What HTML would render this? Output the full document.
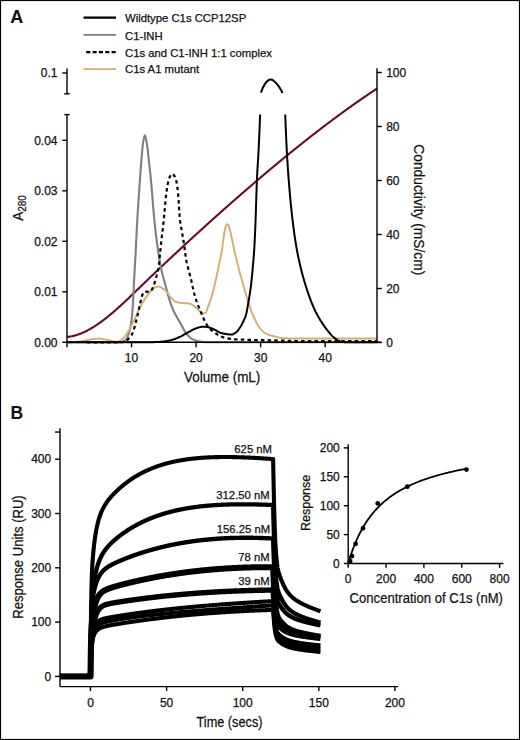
<!DOCTYPE html>
<html><head><meta charset="utf-8"><style>
html,body{margin:0;padding:0;background:#fff}
body{width:520px;height:740px;overflow:hidden}
svg{display:block}
text{font-family:"Liberation Sans", sans-serif;fill:#111;stroke:#111;stroke-width:0.25px}
</style></head><body>
<svg width="520" height="740" viewBox="0 0 520 740">
<rect x="0" y="0" width="520" height="740" fill="#fff"/>
<text x="10.2" y="23" font-size="18" text-anchor="start" font-weight="bold" style="stroke-width:0.1px">A</text>
<line x1="83.5" y1="17.6" x2="116" y2="17.6" stroke="#000" stroke-width="2.2" />
<line x1="83.5" y1="34.9" x2="116" y2="34.9" stroke="#7f7f7f" stroke-width="1.7" />
<line x1="86.2" y1="52.2" x2="116.2" y2="52.2" stroke="#000" stroke-width="2.2" stroke-dasharray="4.1 2.25"/>
<line x1="83.5" y1="69.1" x2="116" y2="69.1" stroke="#d6ac70" stroke-width="1.7" />
<text x="125" y="21.599999999999998" font-size="11.3" text-anchor="start" >Wildtype C1s CCP12SP</text>
<text x="125" y="39.5" font-size="11.3" text-anchor="start" >C1-INH</text>
<text x="125" y="56.6" font-size="11.3" text-anchor="start" >C1s and C1-INH 1:1 complex</text>
<text x="125" y="72.9" font-size="11.3" text-anchor="start" >C1s A1 mutant</text>
<path d="M67.00,336.96 L67.50,336.91 L68.00,336.86 L68.50,336.80 L69.00,336.73 L69.50,336.66 L70.00,336.58 L70.50,336.50 L71.00,336.41 L71.50,336.31 L72.00,336.21 L72.50,336.11 L73.00,335.99 L73.50,335.87 L74.00,335.75 L74.50,335.62 L75.00,335.49 L75.50,335.35 L76.00,335.20 L76.50,335.05 L77.00,334.89 L77.50,334.73 L78.00,334.56 L78.50,334.39 L79.00,334.21 L79.50,334.03 L80.00,333.84 L80.50,333.65 L81.00,333.45 L81.50,333.25 L82.00,333.04 L82.50,332.83 L83.00,332.61 L83.50,332.39 L84.00,332.16 L84.50,331.93 L85.00,331.69 L85.50,331.45 L86.00,331.21 L86.50,330.96 L87.00,330.70 L87.50,330.45 L88.00,330.18 L88.50,329.91 L89.00,329.64 L89.50,329.37 L90.00,329.09 L90.50,328.80 L91.00,328.51 L91.50,328.22 L92.00,327.92 L92.50,327.62 L93.00,327.32 L93.50,327.01 L94.00,326.70 L94.50,326.38 L95.00,326.06 L95.50,325.74 L96.00,325.41 L96.50,325.08 L97.00,324.74 L97.50,324.40 L98.00,324.06 L98.50,323.72 L99.00,323.37 L99.50,323.02 L100.00,322.66 L100.50,322.30 L101.00,321.94 L101.50,321.57 L102.00,321.21 L102.50,320.83 L103.00,320.46 L103.50,320.08 L104.00,319.70 L104.50,319.32 L105.00,318.93 L105.50,318.54 L106.00,318.15 L106.50,317.75 L107.00,317.35 L107.50,316.95 L108.00,316.55 L108.50,316.14 L109.00,315.74 L109.50,315.32 L110.00,314.91 L110.50,314.49 L111.00,314.08 L111.50,313.66 L112.00,313.23 L112.50,312.81 L113.00,312.38 L113.50,311.95 L114.00,311.52 L114.50,311.08 L115.00,310.65 L115.50,310.21 L116.00,309.77 L116.50,309.33 L117.00,308.88 L117.50,308.44 L118.00,307.99 L118.50,307.54 L119.00,307.09 L119.50,306.64 L120.00,306.18 L120.50,305.73 L121.00,305.27 L121.50,304.81 L122.00,304.35 L122.50,303.89 L123.00,303.43 L123.50,302.96 L124.00,302.49 L124.50,302.03 L125.00,301.56 L125.50,301.09 L126.00,300.62 L126.50,300.15 L127.00,299.68 L127.50,299.20 L128.00,298.73 L128.50,298.25 L129.00,297.78 L129.50,297.30 L130.00,296.82 L130.50,296.34 L131.00,295.86 L131.50,295.38 L132.00,294.90 L132.50,294.42 L133.00,293.94 L133.50,293.46 L134.00,292.98 L134.50,292.50 L135.00,292.01 L135.50,291.53 L136.00,291.05 L136.50,290.56 L137.00,290.08 L137.50,289.59 L138.00,289.11 L138.50,288.63 L139.00,288.14 L139.50,287.66 L140.00,287.17 L140.50,286.69 L141.00,286.21 L141.50,285.72 L142.00,285.24 L142.50,284.76 L143.00,284.28 L143.50,283.79 L144.00,283.31 L144.50,282.83 L145.00,282.35 L145.50,281.87 L146.00,281.39 L146.50,280.91 L147.00,280.42 L147.50,279.94 L148.00,279.46 L148.50,278.98 L149.00,278.51 L149.50,278.03 L150.00,277.55 L150.50,277.07 L151.00,276.59 L151.50,276.11 L152.00,275.63 L152.50,275.16 L153.00,274.68 L153.50,274.20 L154.00,273.72 L154.50,273.25 L155.00,272.77 L155.50,272.29 L156.00,271.82 L156.50,271.34 L157.00,270.87 L157.50,270.39 L158.00,269.92 L158.50,269.44 L159.00,268.97 L159.50,268.49 L160.00,268.02 L160.50,267.54 L161.00,267.07 L161.50,266.60 L162.00,266.12 L162.50,265.65 L163.00,265.18 L163.50,264.71 L164.00,264.24 L164.50,263.76 L165.00,263.29 L165.50,262.82 L166.00,262.35 L166.50,261.88 L167.00,261.41 L167.50,260.94 L168.00,260.47 L168.50,260.00 L169.00,259.53 L169.50,259.06 L170.00,258.59 L170.50,258.12 L171.00,257.65 L171.50,257.18 L172.00,256.72 L172.50,256.25 L173.00,255.78 L173.50,255.31 L174.00,254.84 L174.50,254.38 L175.00,253.91 L175.50,253.44 L176.00,252.98 L176.50,252.51 L177.00,252.05 L177.50,251.58 L178.00,251.12 L178.50,250.65 L179.00,250.19 L179.50,249.72 L180.00,249.26 L180.50,248.79 L181.00,248.33 L181.50,247.87 L182.00,247.40 L182.50,246.94 L183.00,246.48 L183.50,246.01 L184.00,245.55 L184.50,245.09 L185.00,244.63 L185.50,244.17 L186.00,243.70 L186.50,243.24 L187.00,242.78 L187.50,242.32 L188.00,241.86 L188.50,241.40 L189.00,240.94 L189.50,240.48 L190.00,240.02 L190.50,239.56 L191.00,239.10 L191.50,238.64 L192.00,238.19 L192.50,237.73 L193.00,237.27 L193.50,236.81 L194.00,236.35 L194.50,235.90 L195.00,235.44 L195.50,234.98 L196.00,234.53 L196.50,234.07 L197.00,233.61 L197.50,233.16 L198.00,232.70 L198.50,232.25 L199.00,231.79 L199.50,231.34 L200.00,230.88 L200.50,230.43 L201.00,229.97 L201.50,229.52 L202.00,229.06 L202.50,228.61 L203.00,228.16 L203.50,227.70 L204.00,227.25 L204.50,226.80 L205.00,226.35 L205.50,225.89 L206.00,225.44 L206.50,224.99 L207.00,224.54 L207.50,224.09 L208.00,223.64 L208.50,223.19 L209.00,222.74 L209.50,222.28 L210.00,221.83 L210.50,221.39 L211.00,220.94 L211.50,220.49 L212.00,220.04 L212.50,219.59 L213.00,219.14 L213.50,218.69 L214.00,218.24 L214.50,217.79 L215.00,217.35 L215.50,216.90 L216.00,216.45 L216.50,216.00 L217.00,215.56 L217.50,215.11 L218.00,214.67 L218.50,214.22 L219.00,213.77 L219.50,213.33 L220.00,212.88 L220.50,212.44 L221.00,211.99 L221.50,211.55 L222.00,211.10 L222.50,210.66 L223.00,210.21 L223.50,209.77 L224.00,209.33 L224.50,208.88 L225.00,208.44 L225.50,208.00 L226.00,207.55 L226.50,207.11 L227.00,206.67 L227.50,206.23 L228.00,205.79 L228.50,205.34 L229.00,204.90 L229.50,204.46 L230.00,204.02 L230.50,203.58 L231.00,203.14 L231.50,202.70 L232.00,202.26 L232.50,201.82 L233.00,201.38 L233.50,200.94 L234.00,200.50 L234.50,200.06 L235.00,199.62 L235.50,199.19 L236.00,198.75 L236.50,198.31 L237.00,197.87 L237.50,197.44 L238.00,197.00 L238.50,196.56 L239.00,196.13 L239.50,195.69 L240.00,195.25 L240.50,194.82 L241.00,194.38 L241.50,193.95 L242.00,193.51 L242.50,193.08 L243.00,192.64 L243.50,192.21 L244.00,191.77 L244.50,191.34 L245.00,190.90 L245.50,190.47 L246.00,190.04 L246.50,189.61 L247.00,189.17 L247.50,188.74 L248.00,188.31 L248.50,187.88 L249.00,187.45 L249.50,187.01 L250.00,186.58 L250.50,186.15 L251.00,185.72 L251.50,185.29 L252.00,184.86 L252.50,184.43 L253.00,184.00 L253.50,183.57 L254.00,183.15 L254.50,182.72 L255.00,182.29 L255.50,181.86 L256.00,181.43 L256.50,181.01 L257.00,180.58 L257.50,180.15 L258.00,179.72 L258.50,179.30 L259.00,178.87 L259.50,178.45 L260.00,178.02 L260.50,177.60 L261.00,177.17 L261.50,176.75 L262.00,176.32 L262.50,175.90 L263.00,175.47 L263.50,175.05 L264.00,174.63 L264.50,174.21 L265.00,173.78 L265.50,173.36 L266.00,172.94 L266.50,172.52 L267.00,172.10 L267.50,171.67 L268.00,171.25 L268.50,170.83 L269.00,170.41 L269.50,169.99 L270.00,169.57 L270.50,169.16 L271.00,168.74 L271.50,168.32 L272.00,167.90 L272.50,167.48 L273.00,167.06 L273.50,166.65 L274.00,166.23 L274.50,165.81 L275.00,165.40 L275.50,164.98 L276.00,164.57 L276.50,164.15 L277.00,163.73 L277.50,163.32 L278.00,162.91 L278.50,162.49 L279.00,162.08 L279.50,161.66 L280.00,161.25 L280.50,160.84 L281.00,160.43 L281.50,160.01 L282.00,159.60 L282.50,159.19 L283.00,158.78 L283.50,158.37 L284.00,157.96 L284.50,157.55 L285.00,157.14 L285.50,156.73 L286.00,156.32 L286.50,155.91 L287.00,155.50 L287.50,155.09 L288.00,154.69 L288.50,154.28 L289.00,153.87 L289.50,153.47 L290.00,153.06 L290.50,152.65 L291.00,152.25 L291.50,151.84 L292.00,151.44 L292.50,151.03 L293.00,150.63 L293.50,150.22 L294.00,149.82 L294.50,149.42 L295.00,149.02 L295.50,148.61 L296.00,148.21 L296.50,147.81 L297.00,147.41 L297.50,147.01 L298.00,146.61 L298.50,146.21 L299.00,145.81 L299.50,145.41 L300.00,145.01 L300.50,144.61 L301.00,144.21 L301.50,143.81 L302.00,143.41 L302.50,143.02 L303.00,142.62 L303.50,142.22 L304.00,141.83 L304.50,141.43 L305.00,141.04 L305.50,140.64 L306.00,140.25 L306.50,139.85 L307.00,139.46 L307.50,139.06 L308.00,138.67 L308.50,138.28 L309.00,137.89 L309.50,137.49 L310.00,137.10 L310.50,136.71 L311.00,136.32 L311.50,135.93 L312.00,135.54 L312.50,135.15 L313.00,134.76 L313.50,134.37 L314.00,133.98 L314.50,133.60 L315.00,133.21 L315.50,132.82 L316.00,132.43 L316.50,132.05 L317.00,131.66 L317.50,131.28 L318.00,130.89 L318.50,130.51 L319.00,130.12 L319.50,129.74 L320.00,129.35 L320.50,128.97 L321.00,128.59 L321.50,128.21 L322.00,127.82 L322.50,127.44 L323.00,127.06 L323.50,126.68 L324.00,126.30 L324.50,125.92 L325.00,125.54 L325.50,125.16 L326.00,124.78 L326.50,124.40 L327.00,124.03 L327.50,123.65 L328.00,123.27 L328.50,122.90 L329.00,122.52 L329.50,122.14 L330.00,121.77 L330.50,121.39 L331.00,121.02 L331.50,120.65 L332.00,120.27 L332.50,119.90 L333.00,119.53 L333.50,119.16 L334.00,118.78 L334.50,118.41 L335.00,118.04 L335.50,117.67 L336.00,117.30 L336.50,116.93 L337.00,116.56 L337.50,116.19 L338.00,115.83 L338.50,115.46 L339.00,115.09 L339.50,114.72 L340.00,114.36 L340.50,113.99 L341.00,113.63 L341.50,113.26 L342.00,112.90 L342.50,112.53 L343.00,112.17 L343.50,111.80 L344.00,111.44 L344.50,111.08 L345.00,110.72 L345.50,110.36 L346.00,110.00 L346.50,109.63 L347.00,109.27 L347.50,108.92 L348.00,108.56 L348.50,108.20 L349.00,107.84 L349.50,107.48 L350.00,107.12 L350.50,106.77 L351.00,106.41 L351.50,106.06 L352.00,105.70 L352.50,105.35 L353.00,104.99 L353.50,104.64 L354.00,104.28 L354.50,103.93 L355.00,103.58 L355.50,103.23 L356.00,102.88 L356.50,102.52 L357.00,102.17 L357.50,101.82 L358.00,101.47 L358.50,101.12 L359.00,100.78 L359.50,100.43 L360.00,100.08 L360.50,99.73 L361.00,99.39 L361.50,99.04 L362.00,98.70 L362.50,98.35 L363.00,98.01 L363.50,97.66 L364.00,97.32 L364.50,96.97 L365.00,96.63 L365.50,96.29 L366.00,95.95 L366.50,95.61 L367.00,95.27 L367.50,94.93 L368.00,94.59 L368.50,94.25 L369.00,93.91 L369.50,93.57 L370.00,93.23 L370.50,92.90 L371.00,92.56 L371.50,92.22 L372.00,91.89 L372.50,91.55 L373.00,91.22 L373.50,90.88 L374.00,90.55 L374.50,90.22 L375.00,89.89 L375.50,89.55 L376.00,89.22 L376.50,88.89 L377.00,88.56" fill="none" stroke="#6a0a2a" stroke-width="2.1"/>
<path d="M67.00,342.30 L67.50,342.30 L68.00,342.30 L68.50,342.30 L69.00,342.30 L69.50,342.30 L70.00,342.30 L70.50,342.30 L71.00,342.30 L71.50,342.30 L72.00,342.30 L72.50,342.30 L73.00,342.30 L73.50,342.30 L74.00,342.30 L74.50,342.30 L75.00,342.30 L75.50,342.30 L76.00,342.30 L76.50,342.30 L77.00,342.30 L77.50,342.30 L78.00,342.30 L78.50,342.30 L79.00,342.30 L79.50,342.30 L80.00,342.30 L80.50,342.30 L81.00,342.30 L81.50,342.30 L82.00,342.30 L82.50,342.30 L83.00,342.30 L83.50,342.30 L84.00,342.30 L84.50,342.30 L85.00,342.30 L85.50,342.30 L86.00,342.30 L86.50,342.30 L87.00,342.30 L87.50,342.30 L88.00,342.30 L88.50,342.30 L89.00,342.30 L89.50,342.30 L90.00,342.30 L90.50,342.30 L91.00,342.30 L91.50,342.30 L92.00,342.30 L92.50,342.30 L93.00,342.30 L93.50,342.30 L94.00,342.30 L94.50,342.30 L95.00,342.30 L95.50,342.30 L96.00,342.30 L96.50,342.30 L97.00,342.30 L97.50,342.30 L98.00,342.30 L98.50,342.30 L99.00,342.30 L99.50,342.30 L100.00,342.30 L100.50,342.30 L101.00,342.30 L101.50,342.30 L102.00,342.30 L102.50,342.30 L103.00,342.30 L103.50,342.30 L104.00,342.30 L104.50,342.30 L105.00,342.30 L105.50,342.30 L106.00,342.30 L106.50,342.30 L107.00,342.30 L107.50,342.30 L108.00,342.30 L108.50,342.30 L109.00,342.30 L109.50,342.30 L110.00,342.30 L110.50,342.30 L111.00,342.30 L111.50,342.30 L112.00,342.30 L112.50,342.30 L113.00,342.30 L113.50,342.30 L114.00,342.30 L114.50,342.30 L115.00,342.30 L115.50,342.30 L116.00,342.30 L116.50,342.30 L117.00,342.29 L117.50,342.27 L118.00,342.25 L118.50,342.22 L119.00,342.18 L119.50,342.14 L120.00,342.10 L120.50,342.05 L121.00,342.00 L121.50,341.93 L122.00,341.82 L122.50,341.67 L123.00,341.49 L123.50,341.27 L124.00,341.01 L124.50,340.72 L125.00,340.39 L125.50,340.03 L126.00,339.61 L126.50,338.93 L127.00,337.98 L127.50,336.81 L128.00,335.49 L128.50,334.08 L129.00,332.60 L129.50,330.95 L130.00,329.02 L130.50,326.73 L131.00,324.00 L131.50,320.46 L132.00,315.84 L132.50,310.17 L133.00,303.18 L133.50,292.87 L134.00,281.94 L134.50,272.92 L135.00,264.53 L135.50,255.63 L136.00,245.61 L136.50,235.14 L137.00,225.08 L137.50,216.19 L138.00,208.07 L138.50,200.43 L139.00,193.12 L139.50,186.02 L140.00,178.99 L140.50,172.02 L141.00,165.32 L141.50,159.15 L142.00,153.36 L142.50,147.77 L143.00,143.28 L143.50,140.35 L144.00,137.85 L144.50,136.10 L145.00,135.64 L145.50,136.73 L146.00,138.90 L146.50,141.49 L147.00,144.41 L147.50,148.25 L148.00,152.64 L148.50,157.13 L149.00,161.51 L149.50,166.05 L150.00,170.76 L150.50,175.66 L151.00,180.75 L151.50,186.22 L152.00,192.21 L152.50,198.49 L153.00,204.81 L153.50,210.92 L154.00,216.55 L154.50,221.52 L155.00,226.18 L155.50,230.65 L156.00,234.93 L156.50,239.03 L157.00,242.95 L157.50,246.70 L158.00,250.27 L158.50,253.68 L159.00,256.92 L159.50,259.99 L160.00,262.86 L160.50,265.53 L161.00,268.00 L161.50,270.26 L162.00,272.36 L162.50,274.34 L163.00,276.24 L163.50,278.11 L164.00,280.00 L164.50,281.89 L165.00,283.76 L165.50,285.59 L166.00,287.41 L166.50,289.21 L167.00,291.00 L167.50,292.81 L168.00,294.64 L168.50,296.46 L169.00,298.23 L169.50,299.92 L170.00,301.50 L170.50,302.98 L171.00,304.41 L171.50,305.77 L172.00,307.08 L172.50,308.32 L173.00,309.50 L173.50,310.62 L174.00,311.68 L174.50,312.70 L175.00,313.68 L175.50,314.64 L176.00,315.57 L176.50,316.50 L177.00,317.41 L177.50,318.28 L178.00,319.14 L178.50,319.98 L179.00,320.81 L179.50,321.65 L180.00,322.50 L180.50,323.38 L181.00,324.29 L181.50,325.22 L182.00,326.16 L182.50,327.11 L183.00,328.06 L183.50,328.99 L184.00,329.90 L184.50,330.77 L185.00,331.60 L185.50,332.39 L186.00,333.11 L186.50,333.76 L187.00,334.35 L187.50,334.91 L188.00,335.46 L188.50,335.98 L189.00,336.48 L189.50,336.96 L190.00,337.40 L190.50,337.82 L191.00,338.20 L191.50,338.54 L192.00,338.84 L192.50,339.10 L193.00,339.35 L193.50,339.58 L194.00,339.81 L194.50,340.02 L195.00,340.22 L195.50,340.41 L196.00,340.59 L196.50,340.75 L197.00,340.90 L197.50,341.04 L198.00,341.16 L198.50,341.27 L199.00,341.37 L199.50,341.45 L200.00,341.53 L200.50,341.61 L201.00,341.68 L201.50,341.76 L202.00,341.83 L202.50,341.89 L203.00,341.96 L203.50,342.02 L204.00,342.07 L204.50,342.12 L205.00,342.17 L205.50,342.21 L206.00,342.24 L206.50,342.26 L207.00,342.28 L207.50,342.30 L208.00,342.30 L208.50,342.30 L209.00,342.30 L209.50,342.30 L210.00,342.30 L210.50,342.30 L211.00,342.30 L211.50,342.30 L212.00,342.30 L212.50,342.30 L213.00,342.30 L213.50,342.30 L214.00,342.30 L214.50,342.30 L215.00,342.30 L215.50,342.30 L216.00,342.30 L216.50,342.30 L217.00,342.30 L217.50,342.30 L218.00,342.30 L218.50,342.30 L219.00,342.30 L219.50,342.30 L220.00,342.30 L220.50,342.30 L221.00,342.30 L221.50,342.30 L222.00,342.30 L222.50,342.30 L223.00,342.30 L223.50,342.30 L224.00,342.30 L224.50,342.30 L225.00,342.30 L225.50,342.30 L226.00,342.30 L226.50,342.30 L227.00,342.30 L227.50,342.30 L228.00,342.30 L228.50,342.30 L229.00,342.30 L229.50,342.30 L230.00,342.30 L230.50,342.30 L231.00,342.30 L231.50,342.30 L232.00,342.30 L232.50,342.30 L233.00,342.30 L233.50,342.30 L234.00,342.30 L234.50,342.30 L235.00,342.30 L235.50,342.30 L236.00,342.30 L236.50,342.30 L237.00,342.30 L237.50,342.30 L238.00,342.30 L238.50,342.30 L239.00,342.30 L239.50,342.30 L240.00,342.30 L240.50,342.30 L241.00,342.30 L241.50,342.30 L242.00,342.30 L242.50,342.30 L243.00,342.30 L243.50,342.30 L244.00,342.30 L244.50,342.30 L245.00,342.30 L245.50,342.30 L246.00,342.30 L246.50,342.30 L247.00,342.30 L247.50,342.30 L248.00,342.30 L248.50,342.30 L249.00,342.30 L249.50,342.30 L250.00,342.30 L250.50,342.30 L251.00,342.30 L251.50,342.30 L252.00,342.30 L252.50,342.30 L253.00,342.30 L253.50,342.30 L254.00,342.30 L254.50,342.30 L255.00,342.30 L255.50,342.30 L256.00,342.30 L256.50,342.30 L257.00,342.30 L257.50,342.30 L258.00,342.30 L258.50,342.30 L259.00,342.30 L259.50,342.30 L260.00,342.30 L260.50,342.30 L261.00,342.30 L261.50,342.30 L262.00,342.30 L262.50,342.30 L263.00,342.30 L263.50,342.30 L264.00,342.30 L264.50,342.30 L265.00,342.30 L265.50,342.30 L266.00,342.30 L266.50,342.30 L267.00,342.30 L267.50,342.30 L268.00,342.30 L268.50,342.30 L269.00,342.30 L269.50,342.30 L270.00,342.30 L270.50,342.30 L271.00,342.30 L271.50,342.30 L272.00,342.30 L272.50,342.30 L273.00,342.30 L273.50,342.30 L274.00,342.30 L274.50,342.30 L275.00,342.30 L275.50,342.30 L276.00,342.30 L276.50,342.30 L277.00,342.30 L277.50,342.30 L278.00,342.30 L278.50,342.30 L279.00,342.30 L279.50,342.30 L280.00,342.30 L280.50,342.30 L281.00,342.30 L281.50,342.30 L282.00,342.30 L282.50,342.30 L283.00,342.30 L283.50,342.30 L284.00,342.30 L284.50,342.30 L285.00,342.30 L285.50,342.30 L286.00,342.30 L286.50,342.30 L287.00,342.30 L287.50,342.30 L288.00,342.30 L288.50,342.30 L289.00,342.30 L289.50,342.30 L290.00,342.30 L290.50,342.30 L291.00,342.30 L291.50,342.30 L292.00,342.30 L292.50,342.30 L293.00,342.30 L293.50,342.30 L294.00,342.30 L294.50,342.30 L295.00,342.30 L295.50,342.30 L296.00,342.30 L296.50,342.30 L297.00,342.30 L297.50,342.30 L298.00,342.30 L298.50,342.30 L299.00,342.30 L299.50,342.30 L300.00,342.30 L300.50,342.30 L301.00,342.30 L301.50,342.30 L302.00,342.30 L302.50,342.30 L303.00,342.30 L303.50,342.30 L304.00,342.30 L304.50,342.30 L305.00,342.30 L305.50,342.30 L306.00,342.30 L306.50,342.30 L307.00,342.30 L307.50,342.30 L308.00,342.30 L308.50,342.30 L309.00,342.30 L309.50,342.30 L310.00,342.30 L310.50,342.30 L311.00,342.30 L311.50,342.30 L312.00,342.30 L312.50,342.30 L313.00,342.30 L313.50,342.30 L314.00,342.30 L314.50,342.30 L315.00,342.30 L315.50,342.30 L316.00,342.30 L316.50,342.30 L317.00,342.30 L317.50,342.30 L318.00,342.30 L318.50,342.30 L319.00,342.30 L319.50,342.30 L320.00,342.30 L320.50,342.30 L321.00,342.30 L321.50,342.30 L322.00,342.30 L322.50,342.30 L323.00,342.30 L323.50,342.30 L324.00,342.30 L324.50,342.30 L325.00,342.30 L325.50,342.30 L326.00,342.30 L326.50,342.30 L327.00,342.30 L327.50,342.30 L328.00,342.30 L328.50,342.30 L329.00,342.30 L329.50,342.30 L330.00,342.30 L330.50,342.30 L331.00,342.30 L331.50,342.30 L332.00,342.30 L332.50,342.30 L333.00,342.30 L333.50,342.30 L334.00,342.30 L334.50,342.30 L335.00,342.30 L335.50,342.30 L336.00,342.30 L336.50,342.30 L337.00,342.30 L337.50,342.30 L338.00,342.30 L338.50,342.30 L339.00,342.30 L339.50,342.30 L340.00,342.30 L340.50,342.30 L341.00,342.30 L341.50,342.30 L342.00,342.30 L342.50,342.30 L343.00,342.30 L343.50,342.30 L344.00,342.30 L344.50,342.30 L345.00,342.30 L345.50,342.30 L346.00,342.30 L346.50,342.30 L347.00,342.30 L347.50,342.30 L348.00,342.30 L348.50,342.30 L349.00,342.30 L349.50,342.30 L350.00,342.30 L350.50,342.30 L351.00,342.30 L351.50,342.30 L352.00,342.30 L352.50,342.30 L353.00,342.30 L353.50,342.30 L354.00,342.30 L354.50,342.30 L355.00,342.30 L355.50,342.30 L356.00,342.30 L356.50,342.30 L357.00,342.30 L357.50,342.30 L358.00,342.30 L358.50,342.30 L359.00,342.30 L359.50,342.30 L360.00,342.30 L360.50,342.30 L361.00,342.30 L361.50,342.30 L362.00,342.30 L362.50,342.30 L363.00,342.30 L363.50,342.30 L364.00,342.30 L364.50,342.30 L365.00,342.30 L365.50,342.30 L366.00,342.30 L366.50,342.30 L367.00,342.30 L367.50,342.30 L368.00,342.30 L368.50,342.30 L369.00,342.30 L369.50,342.30 L370.00,342.30 L370.50,342.30 L371.00,342.30 L371.50,342.30 L372.00,342.30 L372.50,342.30 L373.00,342.30 L373.50,342.30 L374.00,342.30 L374.50,342.30 L375.00,342.30 L375.50,342.30 L376.00,342.30 L376.50,342.30 L377.00,342.30" fill="none" stroke="#7f7f7f" stroke-width="2.1"/>
<path d="M67.00,342.30 L67.50,342.30 L68.00,342.29 L68.50,342.29 L69.00,342.27 L69.50,342.26 L70.00,342.24 L70.50,342.22 L71.00,342.20 L71.50,342.18 L72.00,342.15 L72.50,342.12 L73.00,342.09 L73.50,342.05 L74.00,342.02 L74.50,341.98 L75.00,341.94 L75.50,341.90 L76.00,341.86 L76.50,341.82 L77.00,341.78 L77.50,341.73 L78.00,341.69 L78.50,341.64 L79.00,341.59 L79.50,341.55 L80.00,341.50 L80.50,341.45 L81.00,341.38 L81.50,341.31 L82.00,341.23 L82.50,341.14 L83.00,341.04 L83.50,340.94 L84.00,340.83 L84.50,340.72 L85.00,340.61 L85.50,340.50 L86.00,340.39 L86.50,340.27 L87.00,340.16 L87.50,340.06 L88.00,339.95 L88.50,339.85 L89.00,339.76 L89.50,339.68 L90.00,339.60 L90.50,339.53 L91.00,339.45 L91.50,339.37 L92.00,339.29 L92.50,339.21 L93.00,339.13 L93.50,339.06 L94.00,338.98 L94.50,338.91 L95.00,338.85 L95.50,338.79 L96.00,338.73 L96.50,338.69 L97.00,338.65 L97.50,338.62 L98.00,338.61 L98.50,338.60 L99.00,338.61 L99.50,338.63 L100.00,338.66 L100.50,338.71 L101.00,338.76 L101.50,338.83 L102.00,338.90 L102.50,338.98 L103.00,339.06 L103.50,339.15 L104.00,339.24 L104.50,339.33 L105.00,339.42 L105.50,339.51 L106.00,339.60 L106.50,339.69 L107.00,339.80 L107.50,339.91 L108.00,340.04 L108.50,340.16 L109.00,340.29 L109.50,340.42 L110.00,340.55 L110.50,340.68 L111.00,340.80 L111.50,340.90 L112.00,341.00 L112.50,341.09 L113.00,341.19 L113.50,341.30 L114.00,341.39 L114.50,341.47 L115.00,341.54 L115.50,341.58 L116.00,341.60 L116.50,341.58 L117.00,341.52 L117.50,341.42 L118.00,341.29 L118.50,341.14 L119.00,340.97 L119.50,340.79 L120.00,340.60 L120.50,340.37 L121.00,340.06 L121.50,339.69 L122.00,339.27 L122.50,338.81 L123.00,338.32 L123.50,337.81 L124.00,337.30 L124.50,336.76 L125.00,336.15 L125.50,335.50 L126.00,334.82 L126.50,334.10 L127.00,333.35 L127.50,332.60 L128.00,331.82 L128.50,331.00 L129.00,330.14 L129.50,329.26 L130.00,328.35 L130.50,327.43 L131.00,326.50 L131.50,325.56 L132.00,324.59 L132.50,323.61 L133.00,322.61 L133.50,321.59 L134.00,320.55 L134.50,319.50 L135.00,318.41 L135.50,317.28 L136.00,316.13 L136.50,314.97 L137.00,313.82 L137.50,312.69 L138.00,311.60 L138.50,310.54 L139.00,309.50 L139.50,308.46 L140.00,307.45 L140.50,306.47 L141.00,305.52 L141.50,304.60 L142.00,303.72 L142.50,302.86 L143.00,302.02 L143.50,301.21 L144.00,300.41 L144.50,299.62 L145.00,298.86 L145.50,298.10 L146.00,297.35 L146.50,296.60 L147.00,295.86 L147.50,295.12 L148.00,294.40 L148.50,293.69 L149.00,293.01 L149.50,292.36 L150.00,291.75 L150.50,291.17 L151.00,290.59 L151.50,290.02 L152.00,289.47 L152.50,288.96 L153.00,288.52 L153.50,288.16 L154.00,287.90 L154.50,287.67 L155.00,287.44 L155.50,287.23 L156.00,287.05 L156.50,286.88 L157.00,286.75 L157.50,286.66 L158.00,286.61 L158.50,286.61 L159.00,286.66 L159.50,286.77 L160.00,286.93 L160.50,287.14 L161.00,287.39 L161.50,287.67 L162.00,287.97 L162.50,288.30 L163.00,288.65 L163.50,289.00 L164.00,289.37 L164.50,289.73 L165.00,290.11 L165.50,290.58 L166.00,291.12 L166.50,291.71 L167.00,292.34 L167.50,293.01 L168.00,293.70 L168.50,294.39 L169.00,295.08 L169.50,295.74 L170.00,296.38 L170.50,296.97 L171.00,297.51 L171.50,298.06 L172.00,298.62 L172.50,299.17 L173.00,299.71 L173.50,300.20 L174.00,300.64 L174.50,301.01 L175.00,301.30 L175.50,301.53 L176.00,301.74 L176.50,301.93 L177.00,302.10 L177.50,302.25 L178.00,302.39 L178.50,302.50 L179.00,302.60 L179.50,302.69 L180.00,302.77 L180.50,302.84 L181.00,302.90 L181.50,302.96 L182.00,303.02 L182.50,303.06 L183.00,303.10 L183.50,303.13 L184.00,303.16 L184.50,303.18 L185.00,303.20 L185.50,303.22 L186.00,303.24 L186.50,303.27 L187.00,303.30 L187.50,303.35 L188.00,303.41 L188.50,303.49 L189.00,303.58 L189.50,303.68 L190.00,303.80 L190.50,303.95 L191.00,304.16 L191.50,304.41 L192.00,304.70 L192.50,305.02 L193.00,305.36 L193.50,305.71 L194.00,306.07 L194.50,306.43 L195.00,306.80 L195.50,307.20 L196.00,307.64 L196.50,308.10 L197.00,308.57 L197.50,309.05 L198.00,309.53 L198.50,309.99 L199.00,310.43 L199.50,310.86 L200.00,311.30 L200.50,311.75 L201.00,312.17 L201.50,312.53 L202.00,312.80 L202.50,313.02 L203.00,313.22 L203.50,313.36 L204.00,313.40 L204.50,313.26 L205.00,312.97 L205.50,312.57 L206.00,312.07 L206.50,311.16 L207.00,309.87 L207.50,308.38 L208.00,306.83 L208.50,305.40 L209.00,304.08 L209.50,302.76 L210.00,301.41 L210.50,300.00 L211.00,298.50 L211.50,296.88 L212.00,295.15 L212.50,293.35 L213.00,291.50 L213.50,289.61 L214.00,287.66 L214.50,285.62 L215.00,283.49 L215.50,281.28 L216.00,279.01 L216.50,276.69 L217.00,274.32 L217.50,271.93 L218.00,269.53 L218.50,267.12 L219.00,264.78 L219.50,262.47 L220.00,260.14 L220.50,257.74 L221.00,255.20 L221.50,252.47 L222.00,249.47 L222.50,245.85 L223.00,241.98 L223.50,238.31 L224.00,234.76 L224.50,231.74 L225.00,229.15 L225.50,227.15 L226.00,225.59 L226.50,224.76 L227.00,224.26 L227.50,224.30 L228.00,224.80 L228.50,225.55 L229.00,226.92 L229.50,228.52 L230.00,230.25 L230.50,232.19 L231.00,234.29 L231.50,236.62 L232.00,239.04 L232.50,241.44 L233.00,243.88 L233.50,246.33 L234.00,248.72 L234.50,251.00 L235.00,253.20 L235.50,255.37 L236.00,257.49 L236.50,259.58 L237.00,261.63 L237.50,263.65 L238.00,265.64 L238.50,267.60 L239.00,269.54 L239.50,271.44 L240.00,273.32 L240.50,275.17 L241.00,277.00 L241.50,278.81 L242.00,280.60 L242.50,282.38 L243.00,284.15 L243.50,285.90 L244.00,287.65 L244.50,289.40 L245.00,291.14 L245.50,292.86 L246.00,294.56 L246.50,296.25 L247.00,297.91 L247.50,299.54 L248.00,301.14 L248.50,302.70 L249.00,304.24 L249.50,305.75 L250.00,307.24 L250.50,308.69 L251.00,310.10 L251.50,311.46 L252.00,312.75 L252.50,314.01 L253.00,315.22 L253.50,316.40 L254.00,317.54 L254.50,318.63 L255.00,319.69 L255.50,320.70 L256.00,321.69 L256.50,322.67 L257.00,323.61 L257.50,324.51 L258.00,325.37 L258.50,326.17 L259.00,326.90 L259.50,327.59 L260.00,328.26 L260.50,328.90 L261.00,329.51 L261.50,330.09 L262.00,330.63 L262.50,331.13 L263.00,331.59 L263.50,332.00 L264.00,332.37 L264.50,332.73 L265.00,333.06 L265.50,333.37 L266.00,333.66 L266.50,333.93 L267.00,334.17 L267.50,334.40 L268.00,334.60 L268.50,334.78 L269.00,334.95 L269.50,335.11 L270.00,335.25 L270.50,335.39 L271.00,335.52 L271.50,335.64 L272.00,335.76 L272.50,335.88 L273.00,336.00 L273.50,336.12 L274.00,336.25 L274.50,336.37 L275.00,336.51 L275.50,336.65 L276.00,336.80 L276.50,336.95 L277.00,337.11 L277.50,337.25 L278.00,337.39 L278.50,337.52 L279.00,337.63 L279.50,337.72 L280.00,337.80 L280.50,337.86 L281.00,337.92 L281.50,337.98 L282.00,338.03 L282.50,338.08 L283.00,338.13 L283.50,338.17 L284.00,338.20 L284.50,338.23 L285.00,338.26 L285.50,338.28 L286.00,338.30 L286.50,338.31 L287.00,338.33 L287.50,338.34 L288.00,338.35 L288.50,338.36 L289.00,338.37 L289.50,338.38 L290.00,338.39 L290.50,338.40 L291.00,338.41 L291.50,338.42 L292.00,338.43 L292.50,338.44 L293.00,338.45 L293.50,338.45 L294.00,338.46 L294.50,338.47 L295.00,338.47 L295.50,338.48 L296.00,338.48 L296.50,338.49 L297.00,338.49 L297.50,338.49 L298.00,338.50 L298.50,338.50 L299.00,338.50 L299.50,338.50 L300.00,338.50 L300.50,338.50 L301.00,338.50 L301.50,338.50 L302.00,338.50 L302.50,338.50 L303.00,338.50 L303.50,338.50 L304.00,338.50 L304.50,338.50 L305.00,338.50 L305.50,338.50 L306.00,338.50 L306.50,338.50 L307.00,338.50 L307.50,338.50 L308.00,338.50 L308.50,338.50 L309.00,338.50 L309.50,338.50 L310.00,338.50 L310.50,338.50 L311.00,338.50 L311.50,338.50 L312.00,338.50 L312.50,338.50 L313.00,338.50 L313.50,338.50 L314.00,338.50 L314.50,338.50 L315.00,338.50 L315.50,338.50 L316.00,338.50 L316.50,338.50 L317.00,338.50 L317.50,338.50 L318.00,338.50 L318.50,338.50 L319.00,338.50 L319.50,338.50 L320.00,338.50 L320.50,338.50 L321.00,338.50 L321.50,338.50 L322.00,338.50 L322.50,338.50 L323.00,338.50 L323.50,338.50 L324.00,338.50 L324.50,338.50 L325.00,338.50 L325.50,338.50 L326.00,338.50 L326.50,338.50 L327.00,338.50 L327.50,338.50 L328.00,338.50 L328.50,338.50 L329.00,338.50 L329.50,338.50 L330.00,338.50 L330.50,338.50 L331.00,338.50 L331.50,338.50 L332.00,338.50 L332.50,338.50 L333.00,338.50 L333.50,338.50 L334.00,338.50 L334.50,338.50 L335.00,338.50 L335.50,338.50 L336.00,338.50 L336.50,338.50 L337.00,338.50 L337.50,338.50 L338.00,338.50 L338.50,338.50 L339.00,338.50 L339.50,338.50 L340.00,338.50 L340.50,338.50 L341.00,338.50 L341.50,338.50 L342.00,338.50 L342.50,338.50 L343.00,338.50 L343.50,338.50 L344.00,338.50 L344.50,338.50 L345.00,338.50 L345.50,338.50 L346.00,338.50 L346.50,338.50 L347.00,338.50 L347.50,338.50 L348.00,338.50 L348.50,338.50 L349.00,338.50 L349.50,338.50 L350.00,338.50 L350.50,338.50 L351.00,338.50 L351.50,338.50 L352.00,338.50 L352.50,338.50 L353.00,338.50 L353.50,338.50 L354.00,338.50 L354.50,338.50 L355.00,338.50 L355.50,338.50 L356.00,338.50 L356.50,338.50 L357.00,338.50 L357.50,338.50 L358.00,338.50 L358.50,338.50 L359.00,338.50 L359.50,338.50 L360.00,338.50 L360.50,338.50 L361.00,338.50 L361.50,338.50 L362.00,338.50 L362.50,338.50 L363.00,338.50 L363.50,338.50 L364.00,338.50 L364.50,338.50 L365.00,338.50 L365.50,338.50 L366.00,338.50 L366.50,338.50 L367.00,338.50 L367.50,338.50 L368.00,338.50 L368.50,338.50 L369.00,338.50 L369.50,338.50 L370.00,338.50 L370.50,338.50 L371.00,338.50 L371.50,338.50 L372.00,338.50 L372.50,338.50 L373.00,338.50 L373.50,338.50 L374.00,338.50 L374.50,338.50 L375.00,338.50 L375.50,338.50 L376.00,338.50 L376.50,338.50 L377.00,338.50" fill="none" stroke="#d6ac70" stroke-width="1.9"/>
<path d="M67.00,342.30 L67.50,342.30 L68.00,342.30 L68.50,342.30 L69.00,342.30 L69.50,342.30 L70.00,342.30 L70.50,342.30 L71.00,342.30 L71.50,342.30 L72.00,342.30 L72.50,342.30 L73.00,342.30 L73.50,342.30 L74.00,342.30 L74.50,342.30 L75.00,342.30 L75.50,342.30 L76.00,342.30 L76.50,342.30 L77.00,342.30 L77.50,342.30 L78.00,342.30 L78.50,342.30 L79.00,342.30 L79.50,342.30 L80.00,342.30 L80.50,342.30 L81.00,342.30 L81.50,342.30 L82.00,342.30 L82.50,342.30 L83.00,342.30 L83.50,342.30 L84.00,342.30 L84.50,342.30 L85.00,342.30 L85.50,342.30 L86.00,342.30 L86.50,342.30 L87.00,342.30 L87.50,342.30 L88.00,342.30 L88.50,342.30 L89.00,342.30 L89.50,342.30 L90.00,342.30 L90.50,342.30 L91.00,342.30 L91.50,342.30 L92.00,342.30 L92.50,342.30 L93.00,342.30 L93.50,342.30 L94.00,342.30 L94.50,342.30 L95.00,342.30 L95.50,342.30 L96.00,342.30 L96.50,342.30 L97.00,342.30 L97.50,342.30 L98.00,342.30 L98.50,342.30 L99.00,342.30 L99.50,342.30 L100.00,342.30 L100.50,342.30 L101.00,342.30 L101.50,342.30 L102.00,342.30 L102.50,342.30 L103.00,342.30 L103.50,342.30 L104.00,342.30 L104.50,342.30 L105.00,342.30 L105.50,342.30 L106.00,342.30 L106.50,342.30 L107.00,342.30 L107.50,342.30 L108.00,342.30 L108.50,342.30 L109.00,342.30 L109.50,342.30 L110.00,342.30 L110.50,342.30 L111.00,342.30 L111.50,342.30 L112.00,342.30 L112.50,342.30 L113.00,342.30 L113.50,342.30 L114.00,342.30 L114.50,342.30 L115.00,342.30 L115.50,342.30 L116.00,342.30 L116.50,342.30 L117.00,342.30 L117.50,342.30 L118.00,342.30 L118.50,342.30 L119.00,342.30 L119.50,342.30 L120.00,342.30 L120.50,342.30 L121.00,342.30 L121.50,342.30 L122.00,342.30 L122.50,342.30 L123.00,342.30 L123.50,342.30 L124.00,342.30 L124.50,342.30 L125.00,342.30 L125.50,342.30 L126.00,342.30 L126.50,342.30 L127.00,342.30 L127.50,342.30 L128.00,342.30 L128.50,342.30 L129.00,342.30 L129.50,342.30 L130.00,342.30 L130.50,342.30 L131.00,342.30 L131.50,342.30 L132.00,342.30 L132.50,342.30 L133.00,342.30 L133.50,342.30 L134.00,342.30 L134.50,342.30 L135.00,342.30 L135.50,342.30 L136.00,342.30 L136.50,342.30 L137.00,342.30 L137.50,342.30 L138.00,342.30 L138.50,342.30 L139.00,342.30 L139.50,342.30 L140.00,342.30 L140.50,342.30 L141.00,342.30 L141.50,342.30 L142.00,342.30 L142.50,342.29 L143.00,342.29 L143.50,342.29 L144.00,342.28 L144.50,342.28 L145.00,342.28 L145.50,342.27 L146.00,342.27 L146.50,342.26 L147.00,342.26 L147.50,342.25 L148.00,342.25 L148.50,342.24 L149.00,342.24 L149.50,342.23 L150.00,342.22 L150.50,342.22 L151.00,342.21 L151.50,342.20 L152.00,342.19 L152.50,342.18 L153.00,342.16 L153.50,342.15 L154.00,342.14 L154.50,342.12 L155.00,342.10 L155.50,342.08 L156.00,342.07 L156.50,342.04 L157.00,342.02 L157.50,342.00 L158.00,341.97 L158.50,341.94 L159.00,341.91 L159.50,341.88 L160.00,341.84 L160.50,341.80 L161.00,341.76 L161.50,341.72 L162.00,341.67 L162.50,341.62 L163.00,341.57 L163.50,341.51 L164.00,341.45 L164.50,341.39 L165.00,341.32 L165.50,341.25 L166.00,341.17 L166.50,341.09 L167.00,341.00 L167.50,340.91 L168.00,340.82 L168.50,340.72 L169.00,340.61 L169.50,340.50 L170.00,340.39 L170.50,340.26 L171.00,340.14 L171.50,340.00 L172.00,339.86 L172.50,339.72 L173.00,339.57 L173.50,339.41 L174.00,339.25 L174.50,339.08 L175.00,338.90 L175.50,338.72 L176.00,338.53 L176.50,338.33 L177.00,338.13 L177.50,337.92 L178.00,337.71 L178.50,337.49 L179.00,337.26 L179.50,337.03 L180.00,336.79 L180.50,336.54 L181.00,336.30 L181.50,336.04 L182.00,335.78 L182.50,335.52 L183.00,335.25 L183.50,334.98 L184.00,334.71 L184.50,334.43 L185.00,334.15 L185.50,333.87 L186.00,333.58 L186.50,333.30 L187.00,333.01 L187.50,332.72 L188.00,332.44 L188.50,332.15 L189.00,331.87 L189.50,331.58 L190.00,331.30 L190.50,331.03 L191.00,330.75 L191.50,330.48 L192.00,330.22 L192.50,329.96 L193.00,329.71 L193.50,329.46 L194.00,329.22 L194.50,328.99 L195.00,328.77 L195.50,328.55 L196.00,328.35 L196.50,328.16 L197.00,327.97 L197.50,327.79 L198.00,327.63 L198.50,327.49 L199.00,327.35 L199.50,327.22 L200.00,327.11 L200.50,327.01 L201.00,326.92 L201.50,326.84 L202.00,326.79 L202.50,326.76 L203.00,326.73 L203.50,326.71 L204.00,326.70 L204.50,326.71 L205.00,326.74 L205.50,326.79 L206.00,326.84 L206.50,326.90 L207.00,326.99 L207.50,327.09 L208.00,327.20 L208.50,327.32 L209.00,327.45 L209.50,327.60 L210.00,327.76 L210.50,327.93 L211.00,328.12 L211.50,328.31 L212.00,328.51 L212.50,328.72 L213.00,328.95 L213.50,329.18 L214.00,329.41 L214.50,329.66 L215.00,329.91 L215.50,330.17 L216.00,330.43 L216.50,330.70 L217.00,330.97 L217.50,331.25 L218.00,331.53 L218.50,331.83 L219.00,332.15 L219.50,332.44 L220.00,332.67 L220.50,332.83 L221.00,332.98 L221.50,333.12 L222.00,333.25 L222.50,333.37 L223.00,333.48 L223.50,333.58 L224.00,333.68 L224.50,333.76 L225.00,333.85 L225.50,333.93 L226.00,334.00 L226.50,334.08 L227.00,334.15 L227.50,334.23 L228.00,334.30 L228.50,334.37 L229.00,334.44 L229.50,334.49 L230.00,334.54 L230.50,334.57 L231.00,334.59 L231.50,334.60 L232.00,334.54 L232.50,334.42 L233.00,334.24 L233.50,334.00 L234.00,333.73 L234.50,333.42 L235.00,333.09 L235.50,332.75 L236.00,332.40 L236.50,332.01 L237.00,331.53 L237.50,330.98 L238.00,330.37 L238.50,329.70 L239.00,329.00 L239.50,328.26 L240.00,327.51 L240.50,326.75 L241.00,325.93 L241.50,325.05 L242.00,324.11 L242.50,323.12 L243.00,322.08 L243.50,321.00 L244.00,319.92 L244.50,318.82 L245.00,317.64 L245.50,316.32 L246.00,314.79 L246.50,312.88 L247.00,310.33 L247.50,307.38 L248.00,304.38 L248.50,301.54 L249.00,298.73 L249.50,295.83 L250.00,292.71 L250.50,289.25 L251.00,285.29 L251.50,280.81 L252.00,275.88 L252.50,270.60 L253.00,265.06 L253.50,259.36 L254.00,252.99 L254.50,244.81 L255.00,234.45 L255.50,222.52 L256.00,208.05 L256.50,191.23 L257.00,177.80 L257.50,168.50 L258.00,160.56 L258.50,151.97 L259.00,141.48 L259.50,129.80 L260.00,117.13 L260.10,114.50" fill="none" stroke="#000" stroke-width="2"/>
<path d="M285.20,114.50 L285.70,126.99 L286.20,138.59 L286.70,148.98 L287.20,157.91 L287.70,165.85 L288.20,173.08 L288.70,179.73 L289.20,185.94 L289.70,191.82 L290.20,197.46 L290.70,202.82 L291.20,207.91 L291.70,212.71 L292.20,217.21 L292.70,221.40 L293.20,225.36 L293.70,229.19 L294.20,232.86 L294.70,236.39 L295.20,239.76 L295.70,242.97 L296.20,246.03 L296.70,248.92 L297.20,251.65 L297.70,254.21 L298.20,256.67 L298.70,259.04 L299.20,261.33 L299.70,263.55 L300.20,265.69 L300.70,267.77 L301.20,269.78 L301.70,271.73 L302.20,273.63 L302.70,275.47 L303.20,277.26 L303.70,279.01 L304.20,280.72 L304.70,282.39 L305.20,284.03 L305.70,285.64 L306.20,287.23 L306.70,288.78 L307.20,290.32 L307.70,291.82 L308.20,293.30 L308.70,294.75 L309.20,296.17 L309.70,297.57 L310.20,298.93 L310.70,300.26 L311.20,301.56 L311.70,302.84 L312.20,304.07 L312.70,305.28 L313.20,306.45 L313.70,307.60 L314.20,308.70 L314.70,309.77 L315.20,310.81 L315.70,311.82 L316.20,312.81 L316.70,313.78 L317.20,314.72 L317.70,315.64 L318.20,316.55 L318.70,317.43 L319.20,318.29 L319.70,319.13 L320.20,319.96 L320.70,320.77 L321.20,321.56 L321.70,322.33 L322.20,323.09 L322.70,323.83 L323.20,324.56 L323.70,325.28 L324.20,325.98 L324.70,326.68 L325.20,327.36 L325.70,328.04 L326.20,328.72 L326.70,329.39 L327.20,330.05 L327.70,330.70 L328.20,331.34 L328.70,331.96 L329.20,332.57 L329.70,333.17 L330.20,333.75 L330.70,334.32 L331.20,334.86 L331.70,335.38 L332.20,335.89 L332.70,336.37 L333.20,336.82 L333.70,337.25 L334.20,337.66 L334.70,338.06 L335.20,338.46 L335.70,338.85 L336.20,339.23 L336.70,339.60 L337.20,339.94 L337.70,340.26 L338.20,340.55 L338.70,340.81 L339.20,341.03 L339.70,341.21 L340.20,341.35 L340.70,341.48 L341.20,341.61 L341.70,341.73 L342.20,341.84 L342.70,341.94 L343.20,342.03 L343.70,342.12 L344.20,342.18 L344.70,342.24 L345.20,342.28 L345.70,342.30 L346.20,342.30 L346.70,342.30 L347.20,342.30 L347.70,342.30 L348.20,342.30 L348.70,342.30 L349.20,342.30 L349.70,342.30 L350.20,342.30 L350.70,342.30 L351.20,342.30 L351.70,342.30 L352.20,342.30 L352.70,342.30 L353.20,342.30 L353.70,342.30 L354.20,342.30 L354.70,342.30 L355.20,342.30 L355.70,342.30 L356.20,342.30 L356.70,342.30 L357.20,342.30 L357.70,342.30 L358.20,342.30 L358.70,342.30 L359.20,342.30 L359.70,342.30 L360.20,342.30 L360.70,342.30 L361.20,342.30 L361.70,342.30 L362.20,342.30 L362.70,342.30 L363.20,342.30 L363.70,342.30 L364.20,342.30 L364.70,342.30 L365.20,342.30 L365.70,342.30 L366.20,342.30 L366.70,342.30 L367.20,342.30 L367.70,342.30 L368.20,342.30 L368.70,342.30 L369.20,342.30 L369.70,342.30 L370.20,342.30 L370.70,342.30 L371.20,342.30 L371.70,342.30 L372.20,342.30 L372.70,342.30 L373.20,342.30 L373.70,342.30 L374.20,342.30 L374.70,342.30 L375.20,342.30 L375.70,342.30 L376.20,342.30 L376.70,342.30 L377.00,342.30" fill="none" stroke="#000" stroke-width="2"/>
<path d="M260.90,92.70 L261.40,91.32 L261.90,90.03 L262.40,88.83 L262.90,87.71 L263.40,86.68 L263.90,85.72 L264.40,84.84 L264.90,84.03 L265.40,83.30 L265.90,82.63 L266.40,82.02 L266.90,81.48 L267.40,81.00 L267.90,80.60 L268.40,80.26 L268.90,79.99 L269.40,79.80 L269.90,79.67 L270.40,79.61 L270.90,79.61 L271.40,79.67 L271.90,79.80 L272.40,79.99 L272.90,80.24 L273.40,80.56 L273.90,80.94 L274.40,81.37 L274.90,81.84 L275.40,82.35 L275.90,82.89 L276.40,83.45 L276.90,84.02 L277.40,84.63 L277.90,85.26 L278.40,85.92 L278.90,86.61 L279.40,87.35 L279.90,88.13 L280.40,88.95 L280.90,89.82 L281.40,90.75 L281.90,91.74 L282.40,92.78 L282.50,93.00" fill="none" stroke="#000" stroke-width="2"/>
<path d="M87.00,342.30 L87.50,342.30 L88.00,342.30 L88.50,342.30 L89.00,342.30 L89.50,342.30 L90.00,342.30 L90.50,342.30 L91.00,342.30 L91.50,342.30 L92.00,342.30 L92.50,342.30 L93.00,342.30 L93.50,342.30 L94.00,342.30 L94.50,342.30 L95.00,342.30 L95.50,342.30 L96.00,342.30 L96.50,342.30 L97.00,342.30 L97.50,342.30 L98.00,342.30 L98.50,342.30 L99.00,342.30 L99.50,342.30 L100.00,342.30 L100.50,342.30 L101.00,342.30 L101.50,342.30 L102.00,342.30 L102.50,342.30 L103.00,342.30 L103.50,342.30 L104.00,342.30 L104.50,342.30 L105.00,342.30 L105.50,342.30 L106.00,342.30 L106.50,342.30 L107.00,342.30 L107.50,342.30 L108.00,342.30 L108.50,342.30 L109.00,342.30 L109.50,342.30 L110.00,342.30 L110.50,342.30 L111.00,342.30 L111.50,342.30 L112.00,342.30 L112.50,342.30 L113.00,342.30 L113.50,342.30 L114.00,342.30 L114.50,342.30 L115.00,342.30 L115.50,342.30 L116.00,342.30 L116.50,342.30 L117.00,342.30 L117.50,342.30 L118.00,342.30 L118.50,342.30 L119.00,342.30 L119.50,342.30 L120.00,342.30 L120.50,342.29 L121.00,342.26 L121.50,342.22 L122.00,342.15 L122.50,342.08 L123.00,342.00 L123.50,341.90 L124.00,341.80 L124.50,341.66 L125.00,341.45 L125.50,341.18 L126.00,340.88 L126.50,340.56 L127.00,340.22 L127.50,339.80 L128.00,339.34 L128.50,338.83 L129.00,338.30 L129.50,337.75 L130.00,337.17 L130.50,336.55 L131.00,335.86 L131.50,335.09 L132.00,334.21 L132.50,333.15 L133.00,331.90 L133.50,330.49 L134.00,328.98 L134.50,327.40 L135.00,325.71 L135.50,323.84 L136.00,321.85 L136.50,319.77 L137.00,317.65 L137.50,315.49 L138.00,313.19 L138.50,310.84 L139.00,308.55 L139.50,306.25 L140.00,303.97 L140.50,301.81 L141.00,299.78 L141.50,297.76 L142.00,295.97 L142.50,294.68 L143.00,293.61 L143.50,292.66 L144.00,291.95 L144.50,291.61 L145.00,291.60 L145.50,291.60 L146.00,291.60 L146.50,291.60 L147.00,291.60 L147.50,291.68 L148.00,291.85 L148.50,292.02 L149.00,292.10 L149.50,291.99 L150.00,291.69 L150.50,291.27 L151.00,290.80 L151.50,290.19 L152.00,289.36 L152.50,288.38 L153.00,287.30 L153.50,286.07 L154.00,284.64 L154.50,283.05 L155.00,281.37 L155.50,279.66 L156.00,277.99 L156.50,276.31 L157.00,274.54 L157.50,272.57 L158.00,270.32 L158.50,267.70 L159.00,264.15 L159.50,259.49 L160.00,254.25 L160.50,248.92 L161.00,244.00 L161.50,239.59 L162.00,235.35 L162.50,231.16 L163.00,226.89 L163.50,222.43 L164.00,217.59 L164.50,212.03 L165.00,206.20 L165.50,200.66 L166.00,196.00 L166.50,192.08 L167.00,188.45 L167.50,185.27 L168.00,182.66 L168.50,180.64 L169.00,178.91 L169.50,177.46 L170.00,176.34 L170.50,175.54 L171.00,174.81 L171.50,174.22 L172.00,173.87 L172.50,173.83 L173.00,174.13 L173.50,174.69 L174.00,175.39 L174.50,176.16 L175.00,177.11 L175.50,178.35 L176.00,179.91 L176.50,181.80 L177.00,184.52 L177.50,188.34 L178.00,192.97 L178.50,198.41 L179.00,206.41 L179.50,214.75 L180.00,220.43 L180.50,223.96 L181.00,226.75 L181.50,229.28 L182.00,232.00 L182.50,234.93 L183.00,237.85 L183.50,240.84 L184.00,244.00 L184.50,247.60 L185.00,251.55 L185.50,255.44 L186.00,258.86 L186.50,261.52 L187.00,263.77 L187.50,265.78 L188.00,267.69 L188.50,269.60 L189.00,271.57 L189.50,273.47 L190.00,275.34 L190.50,277.24 L191.00,279.19 L191.50,281.27 L192.00,283.51 L192.50,285.84 L193.00,288.20 L193.50,290.50 L194.00,292.67 L194.50,294.64 L195.00,296.38 L195.50,298.02 L196.00,299.56 L196.50,301.03 L197.00,302.44 L197.50,303.80 L198.00,305.14 L198.50,306.44 L199.00,307.68 L199.50,308.88 L200.00,310.05 L200.50,311.20 L201.00,312.34 L201.50,313.50 L202.00,314.69 L202.50,315.90 L203.00,317.11 L203.50,318.31 L204.00,319.45 L204.50,320.52 L205.00,321.50 L205.50,322.41 L206.00,323.30 L206.50,324.16 L207.00,324.98 L207.50,325.76 L208.00,326.50 L208.50,327.19 L209.00,327.82 L209.50,328.39 L210.00,328.91 L210.50,329.39 L211.00,329.85 L211.50,330.27 L212.00,330.67 L212.50,331.06 L213.00,331.43 L213.50,331.78 L214.00,332.13 L214.50,332.48 L215.00,332.82 L215.50,333.17 L216.00,333.52 L216.50,333.87 L217.00,334.22 L217.50,334.56 L218.00,334.88 L218.50,335.19 L219.00,335.49 L219.50,335.76 L220.00,336.00 L220.50,336.23 L221.00,336.44 L221.50,336.65 L222.00,336.85 L222.50,337.04 L223.00,337.22 L223.50,337.39 L224.00,337.54 L224.50,337.68 L225.00,337.80 L225.50,337.91 L226.00,338.03 L226.50,338.14 L227.00,338.25 L227.50,338.35 L228.00,338.45 L228.50,338.55 L229.00,338.64 L229.50,338.74 L230.00,338.82 L230.50,338.90 L231.00,338.98 L231.50,339.05 L232.00,339.12 L232.50,339.18 L233.00,339.24 L233.50,339.29 L234.00,339.33 L234.50,339.37 L235.00,339.40 L235.50,339.43 L236.00,339.45 L236.50,339.47 L237.00,339.50 L237.50,339.52 L238.00,339.54 L238.50,339.56 L239.00,339.57 L239.50,339.59 L240.00,339.60 L240.50,339.62 L241.00,339.63 L241.50,339.65 L242.00,339.66 L242.50,339.67 L243.00,339.69 L243.50,339.70 L244.00,339.71 L244.50,339.72 L245.00,339.73 L245.50,339.75 L246.00,339.76 L246.50,339.77 L247.00,339.78 L247.50,339.79 L248.00,339.81 L248.50,339.82 L249.00,339.83 L249.50,339.85 L250.00,339.86 L250.50,339.87 L251.00,339.88 L251.50,339.90 L252.00,339.91 L252.50,339.92 L253.00,339.93 L253.50,339.94 L254.00,339.95 L254.50,339.97 L255.00,339.98 L255.50,339.99 L256.00,340.00 L256.50,340.01 L257.00,340.02 L257.50,340.03 L258.00,340.04 L258.50,340.05 L259.00,340.06 L259.50,340.07 L260.00,340.08 L260.50,340.10 L261.00,340.11 L261.50,340.12 L262.00,340.13 L262.50,340.14 L263.00,340.15 L263.50,340.16 L264.00,340.17 L264.50,340.18 L265.00,340.19 L265.50,340.20 L266.00,340.21 L266.50,340.22 L267.00,340.23 L267.50,340.24 L268.00,340.26 L268.50,340.27 L269.00,340.28 L269.50,340.29 L270.00,340.30 L270.50,340.31 L271.00,340.32 L271.50,340.34 L272.00,340.35 L272.50,340.36 L273.00,340.38 L273.50,340.39 L274.00,340.40 L274.50,340.42 L275.00,340.43 L275.50,340.45 L276.00,340.46 L276.50,340.48 L277.00,340.49 L277.50,340.51 L278.00,340.52 L278.50,340.54 L279.00,340.55 L279.50,340.57 L280.00,340.58 L280.50,340.60 L281.00,340.61 L281.50,340.63 L282.00,340.65 L282.50,340.66 L283.00,340.68 L283.50,340.69 L284.00,340.71 L284.50,340.72 L285.00,340.74 L285.50,340.75 L286.00,340.76 L286.50,340.78 L287.00,340.79 L287.50,340.81 L288.00,340.82 L288.50,340.83 L289.00,340.85 L289.50,340.86 L290.00,340.87 L290.50,340.88 L291.00,340.89 L291.50,340.90 L292.00,340.91 L292.50,340.92 L293.00,340.93 L293.50,340.94 L294.00,340.95 L294.50,340.96 L295.00,340.96 L295.50,340.97 L296.00,340.98 L296.50,340.98 L297.00,340.99 L297.50,340.99 L298.00,340.99 L298.50,341.00 L299.00,341.00 L299.50,341.00 L300.00,341.00 L300.50,341.00 L301.00,341.00 L301.50,341.00 L302.00,341.00 L302.50,341.00 L303.00,341.00 L303.50,341.00 L304.00,341.00 L304.50,341.00 L305.00,341.00 L305.50,341.00 L306.00,341.00 L306.50,341.00 L307.00,341.00 L307.50,341.00 L308.00,341.00 L308.50,341.00 L309.00,341.00 L309.50,341.00 L310.00,341.00 L310.50,341.00 L311.00,341.00 L311.50,341.00 L312.00,341.00 L312.50,341.00 L313.00,341.00 L313.50,341.00 L314.00,341.00 L314.50,341.00 L315.00,341.00 L315.50,341.00 L316.00,341.00 L316.50,341.00 L317.00,341.00 L317.50,341.00 L318.00,341.00 L318.50,341.00 L319.00,341.00 L319.50,341.00 L320.00,341.00 L320.50,341.00 L321.00,341.00 L321.50,341.00 L322.00,341.00 L322.50,341.00 L323.00,341.00 L323.50,341.00 L324.00,341.00 L324.50,341.00 L325.00,341.00 L325.50,341.00 L326.00,341.00 L326.50,341.00 L327.00,341.00 L327.50,341.00 L328.00,341.00 L328.50,341.00 L329.00,341.00 L329.50,341.00 L330.00,341.00 L330.50,341.00 L331.00,341.00 L331.50,341.00 L332.00,341.00 L332.50,341.00 L333.00,341.00 L333.50,341.00 L334.00,341.00 L334.50,341.00 L335.00,341.00 L335.50,341.00 L336.00,341.00 L336.50,341.00 L337.00,341.00 L337.50,341.00 L338.00,341.00 L338.50,341.00 L339.00,341.00 L339.50,341.00 L340.00,341.00 L340.50,341.00 L341.00,341.00 L341.50,341.00 L342.00,341.00 L342.50,341.00 L343.00,341.00 L343.50,341.00 L344.00,341.00 L344.50,341.00 L345.00,341.00 L345.50,341.00 L346.00,341.00 L346.50,341.00 L347.00,341.00 L347.50,341.00 L348.00,341.00 L348.50,341.00 L349.00,341.00 L349.50,341.00 L350.00,341.00 L350.50,341.00 L351.00,341.00 L351.50,341.00 L352.00,341.00 L352.50,341.00 L353.00,341.00 L353.50,341.00 L354.00,341.00 L354.50,341.00 L355.00,341.00 L355.50,341.00 L356.00,341.00 L356.50,341.00 L357.00,341.00 L357.50,341.00 L358.00,341.00 L358.50,341.00 L359.00,341.00 L359.50,341.00 L360.00,341.00 L360.50,341.00 L361.00,341.00 L361.50,341.00 L362.00,341.00 L362.50,341.00 L363.00,341.00 L363.50,341.00 L364.00,341.00 L364.50,341.00 L365.00,341.00 L365.50,341.00 L366.00,341.00 L366.50,341.00 L367.00,341.00 L367.50,341.00 L368.00,341.00 L368.50,341.00 L369.00,341.00 L369.50,341.00 L370.00,341.00 L370.50,341.00 L371.00,341.00 L371.50,341.00 L372.00,341.00 L372.50,341.00 L373.00,341.00 L373.50,341.00 L374.00,341.00 L374.50,341.00 L375.00,341.00 L375.50,341.00 L376.00,341.00 L376.50,341.00 L377.00,341.00" fill="none" stroke="#000" stroke-width="2.2" stroke-dasharray="3.5 3.2"/>
<line x1="67" y1="68.5" x2="67" y2="93.8" stroke="#000" stroke-width="1.4" />
<line x1="64.3" y1="93.8" x2="69.7" y2="93.8" stroke="#000" stroke-width="1.4" />
<line x1="62.3" y1="73" x2="67" y2="73" stroke="#000" stroke-width="1.4" />
<text x="57.5" y="76.9" font-size="12" text-anchor="end" >0.1</text>
<line x1="67" y1="114.6" x2="67" y2="347.3" stroke="#000" stroke-width="1.4" />
<line x1="64.3" y1="114.6" x2="69.7" y2="114.6" stroke="#000" stroke-width="1.4" />
<line x1="62.3" y1="342.3" x2="67" y2="342.3" stroke="#000" stroke-width="1.4" />
<text x="57.5" y="346.5" font-size="12" text-anchor="end" >0.00</text>
<line x1="62.3" y1="291.8" x2="67" y2="291.8" stroke="#000" stroke-width="1.4" />
<text x="57.5" y="296.0" font-size="12" text-anchor="end" >0.01</text>
<line x1="62.3" y1="241.3" x2="67" y2="241.3" stroke="#000" stroke-width="1.4" />
<text x="57.5" y="245.5" font-size="12" text-anchor="end" >0.02</text>
<line x1="62.3" y1="190.8" x2="67" y2="190.8" stroke="#000" stroke-width="1.4" />
<text x="57.5" y="195.0" font-size="12" text-anchor="end" >0.03</text>
<line x1="62.3" y1="140.3" x2="67" y2="140.3" stroke="#000" stroke-width="1.4" />
<text x="57.5" y="144.5" font-size="12" text-anchor="end" >0.04</text>
<line x1="67" y1="342.3" x2="381.5" y2="342.3" stroke="#000" stroke-width="1.4" />
<line x1="131.55" y1="342.3" x2="131.55" y2="347.3" stroke="#000" stroke-width="1.4" />
<text x="131.55" y="362.2" font-size="12" text-anchor="middle" >10</text>
<line x1="196.1" y1="342.3" x2="196.1" y2="347.3" stroke="#000" stroke-width="1.4" />
<text x="196.1" y="362.2" font-size="12" text-anchor="middle" >20</text>
<line x1="260.65" y1="342.3" x2="260.65" y2="347.3" stroke="#000" stroke-width="1.4" />
<text x="260.65" y="362.2" font-size="12" text-anchor="middle" >30</text>
<line x1="325.2" y1="342.3" x2="325.2" y2="347.3" stroke="#000" stroke-width="1.4" />
<text x="325.2" y="362.2" font-size="12" text-anchor="middle" >40</text>
<line x1="377" y1="68.3" x2="377" y2="342.3" stroke="#000" stroke-width="1.4" />
<line x1="377" y1="342.5" x2="381.8" y2="342.5" stroke="#000" stroke-width="1.4" />
<text x="386.2" y="346.7" font-size="12" text-anchor="start" >0</text>
<line x1="377" y1="288.5" x2="381.8" y2="288.5" stroke="#000" stroke-width="1.4" />
<text x="386.2" y="292.7" font-size="12" text-anchor="start" >20</text>
<line x1="377" y1="234.5" x2="381.8" y2="234.5" stroke="#000" stroke-width="1.4" />
<text x="386.2" y="238.7" font-size="12" text-anchor="start" >40</text>
<line x1="377" y1="180.5" x2="381.8" y2="180.5" stroke="#000" stroke-width="1.4" />
<text x="386.2" y="184.7" font-size="12" text-anchor="start" >60</text>
<line x1="377" y1="126.5" x2="381.8" y2="126.5" stroke="#000" stroke-width="1.4" />
<text x="386.2" y="130.7" font-size="12" text-anchor="start" >80</text>
<line x1="377" y1="72.5" x2="381.8" y2="72.5" stroke="#000" stroke-width="1.4" />
<text x="386.2" y="76.7" font-size="12" text-anchor="start" >100</text>
<text transform="translate(222.2,381.9) scale(0.875,1)" x="0" y="0" font-size="15.4" text-anchor="middle">Volume (mL)</text>
<text transform="translate(23.1,208) rotate(-90) scale(0.9,1)" font-size="15.2" text-anchor="middle">A<tspan font-size="11" dy="3">280</tspan></text>
<text transform="translate(413.6,209.8) rotate(90) scale(0.908,1)" x="0" y="0" font-size="15.2" text-anchor="middle">Conductivity (mS/cm)</text>
<text x="10.6" y="419" font-size="17.5" text-anchor="start" font-weight="bold" style="stroke-width:0.1px">B</text>
<path d="M60.06,676.40 L90.50,676.40 L90.50,676.40 L90.65,652.61 L90.80,634.06 L90.96,619.49 L91.11,607.94 L91.26,598.69 L91.41,591.19 L91.57,585.04 L91.72,579.91 L91.87,575.57 L92.02,571.85 L92.17,568.61 L92.33,565.74 L92.48,563.17 L92.63,560.83 L92.78,558.69 L92.94,556.71 L93.09,554.86 L93.24,553.12 L93.39,551.48 L93.54,549.92 L93.70,548.43 L93.85,547.01 L94.00,545.64 L94.15,544.33 L94.31,543.06 L94.46,541.85 L94.61,540.67 L94.76,539.54 L94.91,538.44 L95.07,537.38 L95.45,534.87 L95.83,532.56 L96.21,530.41 L96.59,528.42 L96.97,526.57 L97.35,524.85 L97.73,523.24 L98.11,521.74 L98.49,520.33 L98.87,519.01 L99.25,517.76 L99.63,516.59 L100.01,515.49 L100.39,514.44 L100.77,513.45 L101.15,512.51 L101.53,511.61 L101.92,510.75 L102.30,509.93 L102.68,509.15 L103.06,508.40 L103.44,507.68 L103.82,506.98 L104.20,506.31 L104.58,505.66 L104.96,505.03 L105.34,504.42 L105.72,503.83 L106.10,503.26 L106.48,502.70 L106.86,502.15 L107.24,501.62 L107.62,501.10 L108.00,500.59 L108.38,500.09 L108.76,499.60 L109.14,499.12 L109.53,498.65 L109.91,498.19 L110.29,497.74 L110.67,497.29 L111.05,496.85 L111.43,496.42 L111.81,495.99 L112.19,495.57 L112.57,495.15 L112.95,494.74 L113.33,494.33 L113.71,493.93 L114.09,493.54 L114.47,493.15 L114.85,492.76 L115.23,492.38 L115.61,492.00 L115.99,491.63 L116.37,491.26 L116.75,490.89 L117.14,490.53 L117.52,490.17 L117.90,489.82 L118.28,489.47 L118.66,489.12 L119.04,488.77 L119.42,488.43 L119.80,488.10 L120.18,487.76 L120.56,487.43 L120.94,487.10 L121.32,486.78 L121.70,486.45 L122.08,486.13 L122.46,485.82 L122.84,485.50 L123.22,485.19 L123.60,484.89 L123.98,484.58 L124.36,484.28 L124.75,483.98 L125.13,483.68 L125.51,483.39 L125.89,483.10 L126.27,482.81 L126.65,482.52 L127.03,482.24 L127.41,481.96 L127.79,481.68 L128.17,481.40 L128.55,481.13 L128.93,480.86 L129.31,480.59 L129.69,480.32 L130.07,480.06 L130.45,479.79 L130.83,479.54 L131.21,479.28 L131.59,479.02 L131.97,478.77 L132.36,478.52 L132.74,478.27 L133.12,478.03 L133.50,477.78 L133.88,477.54 L134.26,477.30 L134.64,477.07 L135.02,476.83 L135.40,476.60 L135.78,476.37 L136.16,476.14 L136.54,475.91 L136.92,475.69 L137.30,475.47 L137.68,475.25 L138.06,475.03 L138.44,474.81 L138.82,474.60 L139.20,474.39 L139.58,474.18 L139.97,473.97 L140.35,473.76 L140.73,473.56 L141.11,473.35 L141.49,473.15 L141.87,472.95 L142.25,472.76 L142.63,472.56 L143.01,472.37 L143.39,472.18 L143.77,471.99 L144.15,471.80 L144.53,471.61 L144.91,471.43 L145.29,471.25 L145.67,471.07 L146.05,470.89 L146.43,470.71 L146.81,470.53 L147.19,470.36 L147.57,470.19 L147.96,470.02 L148.34,469.85 L148.72,469.68 L149.10,469.51 L149.48,469.35 L149.86,469.19 L150.24,469.03 L150.62,468.87 L151.00,468.71 L151.38,468.55 L151.76,468.40 L152.14,468.24 L152.52,468.09 L152.90,467.94 L153.28,467.79 L153.66,467.64 L154.04,467.50 L154.42,467.35 L154.80,467.21 L155.19,467.07 L155.57,466.93 L155.95,466.79 L156.33,466.65 L156.71,466.52 L157.09,466.38 L157.47,466.25 L157.85,466.12 L158.23,465.99 L158.61,465.86 L158.99,465.73 L159.37,465.60 L159.75,465.48 L160.13,465.35 L160.51,465.23 L160.89,465.11 L161.27,464.99 L161.65,464.87 L162.03,464.75 L162.41,464.64 L162.80,464.52 L163.18,464.41 L163.56,464.29 L163.94,464.18 L164.32,464.07 L164.70,463.96 L165.08,463.85 L165.46,463.75 L165.84,463.64 L166.22,463.54 L166.60,463.43 L166.98,463.33 L167.36,463.23 L167.74,463.13 L168.12,463.03 L168.50,462.93 L168.88,462.84 L169.26,462.74 L169.64,462.65 L170.02,462.55 L170.41,462.46 L170.79,462.37 L171.17,462.28 L171.55,462.19 L171.93,462.10 L172.31,462.02 L172.69,461.93 L173.07,461.84 L173.45,461.76 L173.83,461.68 L174.21,461.59 L174.59,461.51 L174.97,461.43 L175.35,461.35 L175.73,461.27 L176.11,461.20 L176.49,461.12 L176.87,461.04 L177.25,460.97 L177.63,460.90 L178.01,460.82 L178.40,460.75 L178.78,460.68 L179.16,460.61 L179.54,460.54 L179.92,460.47 L180.30,460.40 L180.68,460.34 L181.06,460.27 L181.44,460.21 L181.82,460.14 L182.20,460.08 L182.58,460.02 L182.96,459.95 L183.34,459.89 L183.72,459.83 L184.10,459.77 L184.48,459.72 L184.86,459.66 L185.24,459.60 L185.62,459.55 L186.01,459.49 L186.39,459.44 L186.77,459.38 L187.15,459.33 L187.53,459.28 L187.91,459.22 L188.29,459.17 L188.67,459.12 L189.05,459.07 L189.43,459.03 L189.81,458.98 L190.19,458.93 L190.57,458.88 L190.95,458.84 L191.33,458.79 L191.71,458.75 L192.09,458.71 L192.47,458.66 L192.85,458.62 L193.24,458.58 L193.62,458.54 L194.00,458.50 L194.38,458.46 L194.76,458.42 L195.14,458.38 L195.52,458.34 L195.90,458.30 L196.28,458.27 L196.66,458.23 L197.04,458.20 L197.42,458.16 L197.80,458.13 L198.18,458.09 L198.56,458.06 L198.94,458.03 L199.32,458.00 L199.70,457.97 L200.08,457.94 L200.46,457.91 L200.84,457.88 L201.23,457.85 L201.61,457.82 L201.99,457.79 L202.37,457.77 L202.75,457.74 L203.13,457.71 L203.51,457.69 L203.89,457.66 L204.27,457.64 L204.65,457.62 L205.03,457.59 L205.41,457.57 L205.79,457.55 L206.17,457.53 L206.55,457.50 L206.93,457.48 L207.31,457.46 L207.69,457.44 L208.07,457.42 L208.45,457.41 L208.84,457.39 L209.22,457.37 L209.60,457.35 L209.98,457.34 L210.36,457.32 L210.74,457.30 L211.12,457.29 L211.50,457.27 L211.88,457.26 L212.26,457.25 L212.64,457.23 L213.02,457.22 L213.40,457.21 L213.78,457.19 L214.16,457.18 L214.54,457.17 L214.92,457.16 L215.30,457.15 L215.68,457.14 L216.06,457.13 L216.45,457.12 L216.83,457.11 L217.21,457.11 L217.59,457.10 L217.97,457.09 L218.35,457.08 L218.73,457.08 L219.11,457.07 L219.49,457.06 L219.87,457.06 L220.25,457.05 L220.63,457.05 L221.01,457.04 L221.39,457.04 L221.77,457.04 L222.15,457.03 L222.53,457.03 L222.91,457.03 L223.29,457.03 L223.68,457.03 L224.06,457.02 L224.44,457.02 L224.82,457.02 L225.20,457.02 L225.58,457.02 L225.96,457.02 L226.34,457.02 L226.72,457.03 L227.10,457.03 L227.48,457.03 L227.86,457.03 L228.24,457.03 L228.62,457.04 L229.00,457.04 L229.38,457.04 L229.76,457.05 L230.14,457.05 L230.52,457.06 L230.90,457.06 L231.28,457.06 L231.67,457.07 L232.05,457.08 L232.43,457.08 L232.81,457.09 L233.19,457.10 L233.57,457.10 L233.95,457.11 L234.33,457.12 L234.71,457.12 L235.09,457.13 L235.47,457.14 L235.85,457.15 L236.23,457.16 L236.61,457.17 L236.99,457.18 L237.37,457.19 L237.75,457.20 L238.13,457.21 L238.51,457.22 L238.90,457.23 L239.28,457.24 L239.66,457.25 L240.04,457.26 L240.42,457.28 L240.80,457.29 L241.18,457.30 L241.56,457.31 L241.94,457.33 L242.32,457.34 L242.70,457.35 L243.08,457.37 L243.46,457.38 L243.84,457.39 L244.22,457.41 L244.60,457.42 L244.98,457.44 L245.36,457.45 L245.74,457.47 L246.12,457.49 L246.50,457.50 L246.89,457.52 L247.27,457.53 L247.65,457.55 L248.03,457.57 L248.41,457.58 L248.79,457.60 L249.17,457.62 L249.55,457.64 L249.93,457.65 L250.31,457.67 L250.69,457.69 L251.07,457.71 L251.45,457.73 L251.83,457.75 L252.21,457.77 L252.59,457.79 L252.97,457.80 L253.35,457.82 L253.73,457.84 L254.12,457.86 L254.50,457.89 L254.88,457.91 L255.26,457.93 L255.64,457.95 L256.02,457.97 L256.40,457.99 L256.78,458.01 L257.16,458.03 L257.54,458.05 L257.92,458.08 L258.30,458.10 L258.68,458.12 L259.06,458.14 L259.44,458.17 L259.82,458.19 L260.20,458.21 L260.58,458.24 L260.96,458.26 L261.34,458.28 L261.73,458.31 L262.11,458.33 L262.49,458.36 L262.87,458.38 L263.25,458.40 L263.63,458.43 L264.01,458.45 L264.39,458.48 L264.77,458.50 L265.15,458.53 L265.53,458.56 L265.91,458.58 L266.29,458.61 L266.67,458.63 L267.05,458.66 L267.43,458.68 L267.81,458.71 L268.19,458.74 L268.57,458.76 L268.95,458.79 L269.34,458.82 L269.72,458.85 L270.10,458.87 L270.48,458.90 L270.86,458.93 L271.24,458.96 L271.62,458.98 L272.00,459.01 L272.38,459.04 L272.76,459.07 L273.14,459.10 L273.14,459.10 L273.29,467.65 L273.44,475.81 L273.60,483.55 L273.75,490.83 L273.90,497.61 L274.05,504.01 L274.21,510.12 L274.36,515.86 L274.51,521.12 L274.66,525.81 L274.81,530.03 L274.97,533.93 L275.12,537.51 L275.27,540.77 L275.42,543.71 L275.58,546.39 L275.73,548.85 L275.88,551.12 L276.03,553.20 L276.18,555.10 L276.34,556.86 L276.49,558.48 L276.64,559.99 L276.79,561.39 L276.94,562.70 L277.10,563.94 L277.25,565.13 L277.40,566.24 L277.55,567.25 L277.71,568.12 L278.09,569.93 L278.47,571.47 L278.85,572.82 L279.23,574.09 L279.61,575.28 L279.99,576.38 L280.37,577.42 L280.75,578.42 L281.13,579.42 L281.51,580.39 L281.89,581.33 L282.27,582.24 L282.65,583.12 L283.03,583.96 L283.41,584.76 L283.79,585.55 L284.17,586.32 L284.56,587.07 L284.94,587.80 L285.32,588.50 L285.70,589.18 L286.08,589.82 L286.46,590.44 L286.84,591.01 L287.22,591.55 L287.60,592.08 L287.98,592.59 L288.36,593.08 L288.74,593.56 L289.12,594.02 L289.50,594.46 L289.88,594.89 L290.26,595.30 L290.64,595.70 L291.02,596.08 L291.40,596.45 L291.78,596.81 L292.16,597.15 L292.55,597.48 L292.93,597.81 L293.31,598.12 L293.69,598.43 L294.07,598.73 L294.45,599.02 L294.83,599.30 L295.21,599.58 L295.59,599.85 L295.97,600.11 L296.35,600.37 L296.73,600.62 L297.11,600.87 L297.49,601.11 L297.87,601.35 L298.25,601.58 L298.63,601.81 L299.01,602.03 L299.39,602.25 L299.77,602.46 L300.16,602.67 L300.54,602.87 L300.92,603.08 L301.30,603.28 L301.68,603.47 L302.06,603.66 L302.44,603.85 L302.82,604.04 L303.20,604.23 L303.58,604.41 L303.96,604.59 L304.34,604.77 L304.72,604.95 L305.10,605.13 L305.48,605.31 L305.86,605.48 L306.24,605.66 L306.62,605.83 L307.00,606.00 L307.38,606.16 L307.77,606.33 L308.15,606.49 L308.53,606.65 L308.91,606.81 L309.29,606.97 L309.67,607.12 L310.05,607.28 L310.43,607.43 L310.81,607.59 L311.19,607.74 L311.57,607.89 L311.95,608.04 L312.33,608.20 L312.71,608.35 L313.09,608.50 L313.47,608.65 L313.85,608.80 L314.23,608.95 L314.61,609.10 L315.00,609.24 L315.38,609.39 L315.76,609.54 L316.14,609.68 L316.52,609.83 L316.90,609.97 L317.28,610.11 L317.66,610.26 L318.04,610.40 L318.42,610.54 L318.80,610.68 L319.18,610.82 L319.56,610.96 L319.94,611.10 L320.47,611.30" fill="none" stroke="#000" stroke-width="4.1" stroke-linejoin="round"/>
<path d="M60.06,676.40 L90.50,676.40 L90.50,676.40 L90.65,661.38 L90.80,649.07 L90.96,638.94 L91.11,630.57 L91.26,623.60 L91.41,617.77 L91.57,612.86 L91.72,608.69 L91.87,605.11 L92.02,602.02 L92.17,599.33 L92.33,596.96 L92.48,594.85 L92.63,592.96 L92.78,591.25 L92.94,589.69 L93.09,588.25 L93.24,586.92 L93.39,585.68 L93.54,584.51 L93.70,583.41 L93.85,582.37 L94.00,581.37 L94.15,580.42 L94.31,579.51 L94.46,578.64 L94.61,577.80 L94.76,576.98 L94.91,576.20 L95.07,575.43 L95.45,573.63 L95.83,571.96 L96.21,570.39 L96.59,568.92 L96.97,567.55 L97.35,566.25 L97.73,565.03 L98.11,563.88 L98.49,562.79 L98.87,561.76 L99.25,560.78 L99.63,559.85 L100.01,558.96 L100.39,558.12 L100.77,557.32 L101.15,556.55 L101.53,555.81 L101.92,555.10 L102.30,554.42 L102.68,553.77 L103.06,553.14 L103.44,552.53 L103.82,551.95 L104.20,551.38 L104.58,550.83 L104.96,550.30 L105.34,549.78 L105.72,549.28 L106.10,548.79 L106.48,548.31 L106.86,547.84 L107.24,547.39 L107.62,546.94 L108.00,546.51 L108.38,546.08 L108.76,545.66 L109.14,545.25 L109.53,544.85 L109.91,544.45 L110.29,544.06 L110.67,543.68 L111.05,543.30 L111.43,542.93 L111.81,542.56 L112.19,542.20 L112.57,541.84 L112.95,541.49 L113.33,541.14 L113.71,540.80 L114.09,540.46 L114.47,540.13 L114.85,539.79 L115.23,539.47 L115.61,539.14 L115.99,538.82 L116.37,538.50 L116.75,538.19 L117.14,537.88 L117.52,537.57 L117.90,537.26 L118.28,536.96 L118.66,536.66 L119.04,536.36 L119.42,536.07 L119.80,535.77 L120.18,535.48 L120.56,535.20 L120.94,534.91 L121.32,534.63 L121.70,534.35 L122.08,534.07 L122.46,533.80 L122.84,533.52 L123.22,533.25 L123.60,532.98 L123.98,532.71 L124.36,532.45 L124.75,532.19 L125.13,531.93 L125.51,531.67 L125.89,531.41 L126.27,531.16 L126.65,530.90 L127.03,530.65 L127.41,530.41 L127.79,530.16 L128.17,529.91 L128.55,529.67 L128.93,529.43 L129.31,529.19 L129.69,528.95 L130.07,528.72 L130.45,528.48 L130.83,528.25 L131.21,528.02 L131.59,527.79 L131.97,527.57 L132.36,527.34 L132.74,527.12 L133.12,526.90 L133.50,526.68 L133.88,526.46 L134.26,526.24 L134.64,526.03 L135.02,525.81 L135.40,525.60 L135.78,525.39 L136.16,525.18 L136.54,524.97 L136.92,524.77 L137.30,524.57 L137.68,524.36 L138.06,524.16 L138.44,523.96 L138.82,523.77 L139.20,523.57 L139.58,523.38 L139.97,523.18 L140.35,522.99 L140.73,522.80 L141.11,522.61 L141.49,522.43 L141.87,522.24 L142.25,522.06 L142.63,521.87 L143.01,521.69 L143.39,521.51 L143.77,521.33 L144.15,521.16 L144.53,520.98 L144.91,520.81 L145.29,520.63 L145.67,520.46 L146.05,520.29 L146.43,520.12 L146.81,519.95 L147.19,519.79 L147.57,519.62 L147.96,519.46 L148.34,519.30 L148.72,519.14 L149.10,518.98 L149.48,518.82 L149.86,518.66 L150.24,518.50 L150.62,518.35 L151.00,518.20 L151.38,518.04 L151.76,517.89 L152.14,517.74 L152.52,517.60 L152.90,517.45 L153.28,517.30 L153.66,517.16 L154.04,517.01 L154.42,516.87 L154.80,516.73 L155.19,516.59 L155.57,516.45 L155.95,516.31 L156.33,516.18 L156.71,516.04 L157.09,515.90 L157.47,515.77 L157.85,515.64 L158.23,515.51 L158.61,515.38 L158.99,515.25 L159.37,515.12 L159.75,514.99 L160.13,514.87 L160.51,514.74 L160.89,514.62 L161.27,514.50 L161.65,514.38 L162.03,514.25 L162.41,514.14 L162.80,514.02 L163.18,513.90 L163.56,513.78 L163.94,513.67 L164.32,513.55 L164.70,513.44 L165.08,513.33 L165.46,513.22 L165.84,513.11 L166.22,513.00 L166.60,512.89 L166.98,512.78 L167.36,512.67 L167.74,512.57 L168.12,512.46 L168.50,512.36 L168.88,512.25 L169.26,512.15 L169.64,512.05 L170.02,511.95 L170.41,511.85 L170.79,511.75 L171.17,511.66 L171.55,511.56 L171.93,511.46 L172.31,511.37 L172.69,511.27 L173.07,511.18 L173.45,511.09 L173.83,511.00 L174.21,510.91 L174.59,510.82 L174.97,510.73 L175.35,510.64 L175.73,510.55 L176.11,510.47 L176.49,510.38 L176.87,510.30 L177.25,510.21 L177.63,510.13 L178.01,510.05 L178.40,509.96 L178.78,509.88 L179.16,509.80 L179.54,509.72 L179.92,509.65 L180.30,509.57 L180.68,509.49 L181.06,509.41 L181.44,509.34 L181.82,509.26 L182.20,509.19 L182.58,509.12 L182.96,509.04 L183.34,508.97 L183.72,508.90 L184.10,508.83 L184.48,508.76 L184.86,508.69 L185.24,508.62 L185.62,508.56 L186.01,508.49 L186.39,508.42 L186.77,508.36 L187.15,508.29 L187.53,508.23 L187.91,508.16 L188.29,508.10 L188.67,508.04 L189.05,507.98 L189.43,507.92 L189.81,507.86 L190.19,507.80 L190.57,507.74 L190.95,507.68 L191.33,507.62 L191.71,507.57 L192.09,507.51 L192.47,507.45 L192.85,507.40 L193.24,507.34 L193.62,507.29 L194.00,507.24 L194.38,507.18 L194.76,507.13 L195.14,507.08 L195.52,507.03 L195.90,506.98 L196.28,506.93 L196.66,506.88 L197.04,506.83 L197.42,506.78 L197.80,506.74 L198.18,506.69 L198.56,506.64 L198.94,506.60 L199.32,506.55 L199.70,506.51 L200.08,506.46 L200.46,506.42 L200.84,506.38 L201.23,506.33 L201.61,506.29 L201.99,506.25 L202.37,506.21 L202.75,506.17 L203.13,506.13 L203.51,506.09 L203.89,506.05 L204.27,506.01 L204.65,505.98 L205.03,505.94 L205.41,505.90 L205.79,505.87 L206.17,505.83 L206.55,505.80 L206.93,505.76 L207.31,505.73 L207.69,505.69 L208.07,505.66 L208.45,505.63 L208.84,505.59 L209.22,505.56 L209.60,505.53 L209.98,505.50 L210.36,505.47 L210.74,505.44 L211.12,505.41 L211.50,505.38 L211.88,505.35 L212.26,505.32 L212.64,505.30 L213.02,505.27 L213.40,505.24 L213.78,505.22 L214.16,505.19 L214.54,505.16 L214.92,505.14 L215.30,505.11 L215.68,505.09 L216.06,505.07 L216.45,505.04 L216.83,505.02 L217.21,505.00 L217.59,504.97 L217.97,504.95 L218.35,504.93 L218.73,504.91 L219.11,504.89 L219.49,504.87 L219.87,504.85 L220.25,504.83 L220.63,504.81 L221.01,504.79 L221.39,504.77 L221.77,504.76 L222.15,504.74 L222.53,504.72 L222.91,504.71 L223.29,504.69 L223.68,504.67 L224.06,504.66 L224.44,504.64 L224.82,504.63 L225.20,504.61 L225.58,504.60 L225.96,504.58 L226.34,504.57 L226.72,504.56 L227.10,504.54 L227.48,504.53 L227.86,504.52 L228.24,504.51 L228.62,504.50 L229.00,504.49 L229.38,504.48 L229.76,504.47 L230.14,504.46 L230.52,504.45 L230.90,504.44 L231.28,504.43 L231.67,504.42 L232.05,504.41 L232.43,504.40 L232.81,504.39 L233.19,504.39 L233.57,504.38 L233.95,504.37 L234.33,504.37 L234.71,504.36 L235.09,504.35 L235.47,504.35 L235.85,504.34 L236.23,504.34 L236.61,504.33 L236.99,504.33 L237.37,504.33 L237.75,504.32 L238.13,504.32 L238.51,504.31 L238.90,504.31 L239.28,504.31 L239.66,504.31 L240.04,504.30 L240.42,504.30 L240.80,504.30 L241.18,504.30 L241.56,504.30 L241.94,504.30 L242.32,504.30 L242.70,504.30 L243.08,504.30 L243.46,504.30 L243.84,504.30 L244.22,504.30 L244.60,504.30 L244.98,504.30 L245.36,504.30 L245.74,504.31 L246.12,504.31 L246.50,504.31 L246.89,504.31 L247.27,504.32 L247.65,504.32 L248.03,504.32 L248.41,504.33 L248.79,504.33 L249.17,504.33 L249.55,504.34 L249.93,504.34 L250.31,504.35 L250.69,504.35 L251.07,504.36 L251.45,504.36 L251.83,504.37 L252.21,504.38 L252.59,504.38 L252.97,504.39 L253.35,504.40 L253.73,504.40 L254.12,504.41 L254.50,504.42 L254.88,504.43 L255.26,504.43 L255.64,504.44 L256.02,504.45 L256.40,504.46 L256.78,504.47 L257.16,504.48 L257.54,504.48 L257.92,504.49 L258.30,504.50 L258.68,504.51 L259.06,504.52 L259.44,504.53 L259.82,504.54 L260.20,504.55 L260.58,504.57 L260.96,504.58 L261.34,504.59 L261.73,504.60 L262.11,504.61 L262.49,504.62 L262.87,504.63 L263.25,504.65 L263.63,504.66 L264.01,504.67 L264.39,504.68 L264.77,504.70 L265.15,504.71 L265.53,504.72 L265.91,504.74 L266.29,504.75 L266.67,504.76 L267.05,504.78 L267.43,504.79 L267.81,504.81 L268.19,504.82 L268.57,504.84 L268.95,504.85 L269.34,504.87 L269.72,504.88 L270.10,504.90 L270.48,504.91 L270.86,504.93 L271.24,504.94 L271.62,504.96 L272.00,504.98 L272.38,504.99 L272.76,505.01 L273.14,505.03 L273.14,505.03 L273.29,511.64 L273.44,517.95 L273.60,523.93 L273.75,529.56 L273.90,534.80 L274.05,539.74 L274.21,544.47 L274.36,548.90 L274.51,552.97 L274.66,556.60 L274.81,559.86 L274.97,562.88 L275.12,565.64 L275.27,568.16 L275.42,570.44 L275.58,572.51 L275.73,574.41 L275.88,576.16 L276.03,577.77 L276.18,579.24 L276.34,580.60 L276.49,581.86 L276.64,583.02 L276.79,584.10 L276.94,585.11 L277.10,586.08 L277.25,587.00 L277.40,587.86 L277.55,588.63 L277.71,589.31 L278.09,590.71 L278.47,591.90 L278.85,592.94 L279.23,593.92 L279.61,594.85 L279.99,595.70 L280.37,596.50 L280.75,597.27 L281.13,598.04 L281.51,598.79 L281.89,599.52 L282.27,600.23 L282.65,600.91 L283.03,601.55 L283.41,602.17 L283.79,602.78 L284.17,603.38 L284.56,603.96 L284.94,604.52 L285.32,605.07 L285.70,605.59 L286.08,606.09 L286.46,606.56 L286.84,607.00 L287.22,607.42 L287.60,607.83 L287.98,608.23 L288.36,608.61 L288.74,608.98 L289.12,609.33 L289.50,609.67 L289.88,610.01 L290.26,610.32 L290.64,610.63 L291.02,610.93 L291.40,611.21 L291.78,611.48 L292.16,611.75 L292.55,612.01 L292.93,612.26 L293.31,612.50 L293.69,612.74 L294.07,612.97 L294.45,613.20 L294.83,613.42 L295.21,613.63 L295.59,613.84 L295.97,614.04 L296.35,614.24 L296.73,614.43 L297.11,614.63 L297.49,614.81 L297.87,615.00 L298.25,615.17 L298.63,615.35 L299.01,615.52 L299.39,615.69 L299.77,615.85 L300.16,616.02 L300.54,616.18 L300.92,616.33 L301.30,616.49 L301.68,616.64 L302.06,616.79 L302.44,616.93 L302.82,617.08 L303.20,617.22 L303.58,617.36 L303.96,617.50 L304.34,617.64 L304.72,617.78 L305.10,617.92 L305.48,618.06 L305.86,618.19 L306.24,618.33 L306.62,618.46 L307.00,618.59 L307.38,618.72 L307.77,618.84 L308.15,618.97 L308.53,619.09 L308.91,619.22 L309.29,619.34 L309.67,619.46 L310.05,619.58 L310.43,619.70 L310.81,619.82 L311.19,619.94 L311.57,620.05 L311.95,620.17 L312.33,620.29 L312.71,620.41 L313.09,620.52 L313.47,620.64 L313.85,620.76 L314.23,620.87 L314.61,620.99 L315.00,621.10 L315.38,621.21 L315.76,621.33 L316.14,621.44 L316.52,621.55 L316.90,621.66 L317.28,621.77 L317.66,621.88 L318.04,621.99 L318.42,622.10 L318.80,622.21 L319.18,622.32 L319.56,622.43 L319.94,622.54 L320.47,622.69" fill="none" stroke="#000" stroke-width="4.3" stroke-linejoin="round"/>
<path d="M60.06,676.40 L90.50,676.40 L90.50,676.40 L90.65,656.57 L90.80,642.23 L90.96,631.78 L91.11,624.07 L91.26,618.30 L91.41,613.92 L91.57,610.52 L91.72,607.82 L91.87,605.63 L92.02,603.80 L92.17,602.24 L92.33,600.87 L92.48,599.65 L92.63,598.54 L92.78,597.51 L92.94,596.55 L93.09,595.65 L93.24,594.79 L93.39,593.97 L93.54,593.19 L93.70,592.43 L93.85,591.70 L94.00,591.00 L94.15,590.32 L94.31,589.66 L94.46,589.02 L94.61,588.40 L94.76,587.80 L94.91,587.22 L95.07,586.65 L95.45,585.31 L95.83,584.06 L96.21,582.90 L96.59,581.81 L96.97,580.80 L97.35,579.85 L97.73,578.97 L98.11,578.14 L98.49,577.37 L98.87,576.64 L99.25,575.96 L99.63,575.31 L100.01,574.71 L100.39,574.13 L100.77,573.59 L101.15,573.08 L101.53,572.60 L101.92,572.14 L102.30,571.70 L102.68,571.28 L103.06,570.88 L103.44,570.50 L103.82,570.14 L104.20,569.79 L104.58,569.45 L104.96,569.13 L105.34,568.82 L105.72,568.52 L106.10,568.23 L106.48,567.95 L106.86,567.67 L107.24,567.41 L107.62,567.15 L108.00,566.90 L108.38,566.66 L108.76,566.42 L109.14,566.19 L109.53,565.96 L109.91,565.74 L110.29,565.52 L110.67,565.30 L111.05,565.09 L111.43,564.89 L111.81,564.68 L112.19,564.48 L112.57,564.28 L112.95,564.09 L113.33,563.90 L113.71,563.71 L114.09,563.52 L114.47,563.33 L114.85,563.15 L115.23,562.97 L115.61,562.79 L115.99,562.61 L116.37,562.43 L116.75,562.26 L117.14,562.09 L117.52,561.91 L117.90,561.74 L118.28,561.57 L118.66,561.41 L119.04,561.24 L119.42,561.07 L119.80,560.91 L120.18,560.75 L120.56,560.58 L120.94,560.42 L121.32,560.26 L121.70,560.10 L122.08,559.94 L122.46,559.79 L122.84,559.63 L123.22,559.47 L123.60,559.32 L123.98,559.16 L124.36,559.01 L124.75,558.86 L125.13,558.71 L125.51,558.56 L125.89,558.41 L126.27,558.26 L126.65,558.11 L127.03,557.96 L127.41,557.81 L127.79,557.67 L128.17,557.52 L128.55,557.38 L128.93,557.23 L129.31,557.09 L129.69,556.95 L130.07,556.80 L130.45,556.66 L130.83,556.52 L131.21,556.38 L131.59,556.24 L131.97,556.10 L132.36,555.97 L132.74,555.83 L133.12,555.69 L133.50,555.56 L133.88,555.42 L134.26,555.29 L134.64,555.15 L135.02,555.02 L135.40,554.88 L135.78,554.75 L136.16,554.62 L136.54,554.49 L136.92,554.36 L137.30,554.23 L137.68,554.10 L138.06,553.97 L138.44,553.84 L138.82,553.72 L139.20,553.59 L139.58,553.47 L139.97,553.34 L140.35,553.22 L140.73,553.09 L141.11,552.97 L141.49,552.84 L141.87,552.72 L142.25,552.60 L142.63,552.48 L143.01,552.36 L143.39,552.24 L143.77,552.12 L144.15,552.00 L144.53,551.88 L144.91,551.77 L145.29,551.65 L145.67,551.53 L146.05,551.42 L146.43,551.30 L146.81,551.19 L147.19,551.07 L147.57,550.96 L147.96,550.85 L148.34,550.74 L148.72,550.62 L149.10,550.51 L149.48,550.40 L149.86,550.29 L150.24,550.18 L150.62,550.07 L151.00,549.97 L151.38,549.86 L151.76,549.75 L152.14,549.65 L152.52,549.54 L152.90,549.43 L153.28,549.33 L153.66,549.22 L154.04,549.12 L154.42,549.02 L154.80,548.92 L155.19,548.81 L155.57,548.71 L155.95,548.61 L156.33,548.51 L156.71,548.41 L157.09,548.31 L157.47,548.21 L157.85,548.12 L158.23,548.02 L158.61,547.92 L158.99,547.82 L159.37,547.73 L159.75,547.63 L160.13,547.54 L160.51,547.44 L160.89,547.35 L161.27,547.26 L161.65,547.16 L162.03,547.07 L162.41,546.98 L162.80,546.89 L163.18,546.80 L163.56,546.71 L163.94,546.62 L164.32,546.53 L164.70,546.44 L165.08,546.35 L165.46,546.27 L165.84,546.18 L166.22,546.09 L166.60,546.01 L166.98,545.92 L167.36,545.84 L167.74,545.75 L168.12,545.67 L168.50,545.58 L168.88,545.50 L169.26,545.42 L169.64,545.34 L170.02,545.26 L170.41,545.18 L170.79,545.10 L171.17,545.02 L171.55,544.94 L171.93,544.86 L172.31,544.78 L172.69,544.70 L173.07,544.62 L173.45,544.55 L173.83,544.47 L174.21,544.40 L174.59,544.32 L174.97,544.25 L175.35,544.17 L175.73,544.10 L176.11,544.02 L176.49,543.95 L176.87,543.88 L177.25,543.81 L177.63,543.74 L178.01,543.67 L178.40,543.59 L178.78,543.53 L179.16,543.46 L179.54,543.39 L179.92,543.32 L180.30,543.25 L180.68,543.18 L181.06,543.12 L181.44,543.05 L181.82,542.98 L182.20,542.92 L182.58,542.85 L182.96,542.79 L183.34,542.72 L183.72,542.66 L184.10,542.60 L184.48,542.53 L184.86,542.47 L185.24,542.41 L185.62,542.35 L186.01,542.29 L186.39,542.23 L186.77,542.17 L187.15,542.11 L187.53,542.05 L187.91,541.99 L188.29,541.93 L188.67,541.87 L189.05,541.82 L189.43,541.76 L189.81,541.70 L190.19,541.65 L190.57,541.59 L190.95,541.54 L191.33,541.48 L191.71,541.43 L192.09,541.37 L192.47,541.32 L192.85,541.27 L193.24,541.21 L193.62,541.16 L194.00,541.11 L194.38,541.06 L194.76,541.01 L195.14,540.96 L195.52,540.91 L195.90,540.86 L196.28,540.81 L196.66,540.76 L197.04,540.71 L197.42,540.67 L197.80,540.62 L198.18,540.57 L198.56,540.53 L198.94,540.48 L199.32,540.43 L199.70,540.39 L200.08,540.34 L200.46,540.30 L200.84,540.26 L201.23,540.21 L201.61,540.17 L201.99,540.13 L202.37,540.08 L202.75,540.04 L203.13,540.00 L203.51,539.96 L203.89,539.92 L204.27,539.88 L204.65,539.84 L205.03,539.80 L205.41,539.76 L205.79,539.72 L206.17,539.69 L206.55,539.65 L206.93,539.61 L207.31,539.57 L207.69,539.54 L208.07,539.50 L208.45,539.47 L208.84,539.43 L209.22,539.40 L209.60,539.36 L209.98,539.33 L210.36,539.29 L210.74,539.26 L211.12,539.23 L211.50,539.19 L211.88,539.16 L212.26,539.13 L212.64,539.10 L213.02,539.07 L213.40,539.04 L213.78,539.01 L214.16,538.98 L214.54,538.95 L214.92,538.92 L215.30,538.89 L215.68,538.86 L216.06,538.84 L216.45,538.81 L216.83,538.78 L217.21,538.75 L217.59,538.73 L217.97,538.70 L218.35,538.68 L218.73,538.65 L219.11,538.63 L219.49,538.60 L219.87,538.58 L220.25,538.55 L220.63,538.53 L221.01,538.51 L221.39,538.49 L221.77,538.46 L222.15,538.44 L222.53,538.42 L222.91,538.40 L223.29,538.38 L223.68,538.36 L224.06,538.34 L224.44,538.32 L224.82,538.30 L225.20,538.28 L225.58,538.26 L225.96,538.24 L226.34,538.23 L226.72,538.21 L227.10,538.19 L227.48,538.17 L227.86,538.16 L228.24,538.14 L228.62,538.13 L229.00,538.11 L229.38,538.10 L229.76,538.08 L230.14,538.07 L230.52,538.05 L230.90,538.04 L231.28,538.03 L231.67,538.01 L232.05,538.00 L232.43,537.99 L232.81,537.98 L233.19,537.97 L233.57,537.95 L233.95,537.94 L234.33,537.93 L234.71,537.92 L235.09,537.91 L235.47,537.90 L235.85,537.89 L236.23,537.89 L236.61,537.88 L236.99,537.87 L237.37,537.86 L237.75,537.85 L238.13,537.85 L238.51,537.84 L238.90,537.83 L239.28,537.83 L239.66,537.82 L240.04,537.82 L240.42,537.81 L240.80,537.81 L241.18,537.80 L241.56,537.80 L241.94,537.79 L242.32,537.79 L242.70,537.79 L243.08,537.78 L243.46,537.78 L243.84,537.78 L244.22,537.78 L244.60,537.78 L244.98,537.78 L245.36,537.77 L245.74,537.77 L246.12,537.77 L246.50,537.77 L246.89,537.77 L247.27,537.77 L247.65,537.78 L248.03,537.78 L248.41,537.78 L248.79,537.78 L249.17,537.78 L249.55,537.79 L249.93,537.79 L250.31,537.79 L250.69,537.80 L251.07,537.80 L251.45,537.80 L251.83,537.81 L252.21,537.81 L252.59,537.82 L252.97,537.82 L253.35,537.83 L253.73,537.83 L254.12,537.84 L254.50,537.85 L254.88,537.85 L255.26,537.86 L255.64,537.87 L256.02,537.88 L256.40,537.88 L256.78,537.89 L257.16,537.90 L257.54,537.91 L257.92,537.92 L258.30,537.93 L258.68,537.94 L259.06,537.95 L259.44,537.96 L259.82,537.97 L260.20,537.98 L260.58,537.99 L260.96,538.00 L261.34,538.02 L261.73,538.03 L262.11,538.04 L262.49,538.05 L262.87,538.07 L263.25,538.08 L263.63,538.09 L264.01,538.11 L264.39,538.12 L264.77,538.14 L265.15,538.15 L265.53,538.17 L265.91,538.18 L266.29,538.20 L266.67,538.21 L267.05,538.23 L267.43,538.24 L267.81,538.26 L268.19,538.28 L268.57,538.30 L268.95,538.31 L269.34,538.33 L269.72,538.35 L270.10,538.37 L270.48,538.39 L270.86,538.41 L271.24,538.42 L271.62,538.44 L272.00,538.46 L272.38,538.48 L272.76,538.50 L273.14,538.52 L273.14,538.52 L273.29,543.41 L273.44,548.07 L273.60,552.48 L273.75,556.64 L273.90,560.50 L274.05,564.16 L274.21,567.65 L274.36,570.92 L274.51,573.92 L274.66,576.60 L274.81,579.01 L274.97,581.23 L275.12,583.28 L275.27,585.14 L275.42,586.82 L275.58,588.34 L275.73,589.75 L275.88,591.04 L276.03,592.23 L276.18,593.32 L276.34,594.32 L276.49,595.25 L276.64,596.11 L276.79,596.91 L276.94,597.65 L277.10,598.36 L277.25,599.04 L277.40,599.68 L277.55,600.25 L277.71,600.75 L278.09,601.78 L278.47,602.66 L278.85,603.43 L279.23,604.15 L279.61,604.84 L279.99,605.46 L280.37,606.06 L280.75,606.63 L281.13,607.20 L281.51,607.75 L281.89,608.29 L282.27,608.81 L282.65,609.31 L283.03,609.79 L283.41,610.24 L283.79,610.69 L284.17,611.13 L284.56,611.56 L284.94,611.98 L285.32,612.38 L285.70,612.77 L286.08,613.14 L286.46,613.48 L286.84,613.81 L287.22,614.12 L287.60,614.42 L287.98,614.71 L288.36,615.00 L288.74,615.27 L289.12,615.53 L289.50,615.78 L289.88,616.03 L290.26,616.26 L290.64,616.49 L291.02,616.71 L291.40,616.92 L291.78,617.12 L292.16,617.32 L292.55,617.51 L292.93,617.69 L293.31,617.87 L293.69,618.05 L294.07,618.22 L294.45,618.38 L294.83,618.55 L295.21,618.70 L295.59,618.86 L295.97,619.01 L296.35,619.15 L296.73,619.30 L297.11,619.44 L297.49,619.58 L297.87,619.71 L298.25,619.84 L298.63,619.97 L299.01,620.10 L299.39,620.22 L299.77,620.35 L300.16,620.47 L300.54,620.58 L300.92,620.70 L301.30,620.81 L301.68,620.92 L302.06,621.03 L302.44,621.14 L302.82,621.25 L303.20,621.36 L303.58,621.46 L303.96,621.56 L304.34,621.67 L304.72,621.77 L305.10,621.87 L305.48,621.97 L305.86,622.07 L306.24,622.17 L306.62,622.27 L307.00,622.37 L307.38,622.46 L307.77,622.55 L308.15,622.65 L308.53,622.74 L308.91,622.83 L309.29,622.92 L309.67,623.01 L310.05,623.10 L310.43,623.19 L310.81,623.27 L311.19,623.36 L311.57,623.45 L311.95,623.53 L312.33,623.62 L312.71,623.71 L313.09,623.79 L313.47,623.88 L313.85,623.96 L314.23,624.05 L314.61,624.13 L315.00,624.22 L315.38,624.30 L315.76,624.39 L316.14,624.47 L316.52,624.55 L316.90,624.63 L317.28,624.72 L317.66,624.80 L318.04,624.88 L318.42,624.96 L318.80,625.04 L319.18,625.12 L319.56,625.20 L319.94,625.28 L320.47,625.39" fill="none" stroke="#000" stroke-width="4.4" stroke-linejoin="round"/>
<path d="M60.06,676.40 L90.50,676.40 L90.50,676.40 L90.65,662.19 L90.80,651.76 L90.96,644.01 L91.11,638.16 L91.26,633.66 L91.41,630.14 L91.57,627.31 L91.72,624.99 L91.87,623.03 L92.02,621.34 L92.17,619.86 L92.33,618.53 L92.48,617.32 L92.63,616.21 L92.78,615.17 L92.94,614.19 L93.09,613.27 L93.24,612.39 L93.39,611.56 L93.54,610.76 L93.70,610.00 L93.85,609.26 L94.00,608.56 L94.15,607.88 L94.31,607.23 L94.46,606.61 L94.61,606.00 L94.76,605.42 L94.91,604.87 L95.07,604.33 L95.45,603.06 L95.83,601.91 L96.21,600.86 L96.59,599.89 L96.97,599.01 L97.35,598.20 L97.73,597.46 L98.11,596.78 L98.49,596.15 L98.87,595.57 L99.25,595.04 L99.63,594.54 L100.01,594.08 L100.39,593.66 L100.77,593.26 L101.15,592.89 L101.53,592.55 L101.92,592.23 L102.30,591.93 L102.68,591.64 L103.06,591.38 L103.44,591.12 L103.82,590.88 L104.20,590.66 L104.58,590.44 L104.96,590.24 L105.34,590.04 L105.72,589.85 L106.10,589.67 L106.48,589.50 L106.86,589.33 L107.24,589.17 L107.62,589.01 L108.00,588.86 L108.38,588.71 L108.76,588.57 L109.14,588.43 L109.53,588.29 L109.91,588.16 L110.29,588.02 L110.67,587.90 L111.05,587.77 L111.43,587.64 L111.81,587.52 L112.19,587.40 L112.57,587.28 L112.95,587.16 L113.33,587.05 L113.71,586.93 L114.09,586.82 L114.47,586.71 L114.85,586.59 L115.23,586.48 L115.61,586.37 L115.99,586.26 L116.37,586.16 L116.75,586.05 L117.14,585.94 L117.52,585.84 L117.90,585.73 L118.28,585.63 L118.66,585.52 L119.04,585.42 L119.42,585.31 L119.80,585.21 L120.18,585.11 L120.56,585.01 L120.94,584.91 L121.32,584.81 L121.70,584.71 L122.08,584.61 L122.46,584.51 L122.84,584.41 L123.22,584.31 L123.60,584.21 L123.98,584.11 L124.36,584.02 L124.75,583.92 L125.13,583.82 L125.51,583.73 L125.89,583.63 L126.27,583.54 L126.65,583.44 L127.03,583.35 L127.41,583.25 L127.79,583.16 L128.17,583.06 L128.55,582.97 L128.93,582.88 L129.31,582.78 L129.69,582.69 L130.07,582.60 L130.45,582.51 L130.83,582.42 L131.21,582.32 L131.59,582.23 L131.97,582.14 L132.36,582.05 L132.74,581.96 L133.12,581.87 L133.50,581.78 L133.88,581.70 L134.26,581.61 L134.64,581.52 L135.02,581.43 L135.40,581.34 L135.78,581.26 L136.16,581.17 L136.54,581.08 L136.92,581.00 L137.30,580.91 L137.68,580.82 L138.06,580.74 L138.44,580.65 L138.82,580.57 L139.20,580.48 L139.58,580.40 L139.97,580.32 L140.35,580.23 L140.73,580.15 L141.11,580.07 L141.49,579.98 L141.87,579.90 L142.25,579.82 L142.63,579.74 L143.01,579.66 L143.39,579.58 L143.77,579.50 L144.15,579.41 L144.53,579.33 L144.91,579.25 L145.29,579.18 L145.67,579.10 L146.05,579.02 L146.43,578.94 L146.81,578.86 L147.19,578.78 L147.57,578.70 L147.96,578.63 L148.34,578.55 L148.72,578.47 L149.10,578.40 L149.48,578.32 L149.86,578.24 L150.24,578.17 L150.62,578.09 L151.00,578.02 L151.38,577.94 L151.76,577.87 L152.14,577.79 L152.52,577.72 L152.90,577.65 L153.28,577.57 L153.66,577.50 L154.04,577.43 L154.42,577.36 L154.80,577.28 L155.19,577.21 L155.57,577.14 L155.95,577.07 L156.33,577.00 L156.71,576.93 L157.09,576.86 L157.47,576.79 L157.85,576.72 L158.23,576.65 L158.61,576.58 L158.99,576.51 L159.37,576.44 L159.75,576.37 L160.13,576.30 L160.51,576.24 L160.89,576.17 L161.27,576.10 L161.65,576.03 L162.03,575.97 L162.41,575.90 L162.80,575.83 L163.18,575.77 L163.56,575.70 L163.94,575.64 L164.32,575.57 L164.70,575.51 L165.08,575.44 L165.46,575.38 L165.84,575.32 L166.22,575.25 L166.60,575.19 L166.98,575.13 L167.36,575.06 L167.74,575.00 L168.12,574.94 L168.50,574.88 L168.88,574.81 L169.26,574.75 L169.64,574.69 L170.02,574.63 L170.41,574.57 L170.79,574.51 L171.17,574.45 L171.55,574.39 L171.93,574.33 L172.31,574.27 L172.69,574.21 L173.07,574.15 L173.45,574.10 L173.83,574.04 L174.21,573.98 L174.59,573.92 L174.97,573.87 L175.35,573.81 L175.73,573.75 L176.11,573.70 L176.49,573.64 L176.87,573.58 L177.25,573.53 L177.63,573.47 L178.01,573.42 L178.40,573.36 L178.78,573.31 L179.16,573.25 L179.54,573.20 L179.92,573.15 L180.30,573.09 L180.68,573.04 L181.06,572.99 L181.44,572.93 L181.82,572.88 L182.20,572.83 L182.58,572.78 L182.96,572.73 L183.34,572.67 L183.72,572.62 L184.10,572.57 L184.48,572.52 L184.86,572.47 L185.24,572.42 L185.62,572.37 L186.01,572.32 L186.39,572.27 L186.77,572.22 L187.15,572.17 L187.53,572.13 L187.91,572.08 L188.29,572.03 L188.67,571.98 L189.05,571.93 L189.43,571.89 L189.81,571.84 L190.19,571.79 L190.57,571.75 L190.95,571.70 L191.33,571.65 L191.71,571.61 L192.09,571.56 L192.47,571.52 L192.85,571.47 L193.24,571.43 L193.62,571.38 L194.00,571.34 L194.38,571.30 L194.76,571.25 L195.14,571.21 L195.52,571.17 L195.90,571.12 L196.28,571.08 L196.66,571.04 L197.04,571.00 L197.42,570.95 L197.80,570.91 L198.18,570.87 L198.56,570.83 L198.94,570.79 L199.32,570.75 L199.70,570.71 L200.08,570.67 L200.46,570.63 L200.84,570.59 L201.23,570.55 L201.61,570.51 L201.99,570.47 L202.37,570.43 L202.75,570.39 L203.13,570.35 L203.51,570.32 L203.89,570.28 L204.27,570.24 L204.65,570.20 L205.03,570.17 L205.41,570.13 L205.79,570.09 L206.17,570.06 L206.55,570.02 L206.93,569.99 L207.31,569.95 L207.69,569.91 L208.07,569.88 L208.45,569.84 L208.84,569.81 L209.22,569.78 L209.60,569.74 L209.98,569.71 L210.36,569.67 L210.74,569.64 L211.12,569.61 L211.50,569.57 L211.88,569.54 L212.26,569.51 L212.64,569.48 L213.02,569.45 L213.40,569.41 L213.78,569.38 L214.16,569.35 L214.54,569.32 L214.92,569.29 L215.30,569.26 L215.68,569.23 L216.06,569.20 L216.45,569.17 L216.83,569.14 L217.21,569.11 L217.59,569.08 L217.97,569.05 L218.35,569.02 L218.73,568.99 L219.11,568.96 L219.49,568.94 L219.87,568.91 L220.25,568.88 L220.63,568.85 L221.01,568.83 L221.39,568.80 L221.77,568.77 L222.15,568.75 L222.53,568.72 L222.91,568.69 L223.29,568.67 L223.68,568.64 L224.06,568.62 L224.44,568.59 L224.82,568.57 L225.20,568.54 L225.58,568.52 L225.96,568.49 L226.34,568.47 L226.72,568.45 L227.10,568.42 L227.48,568.40 L227.86,568.38 L228.24,568.35 L228.62,568.33 L229.00,568.31 L229.38,568.29 L229.76,568.27 L230.14,568.24 L230.52,568.22 L230.90,568.20 L231.28,568.18 L231.67,568.16 L232.05,568.14 L232.43,568.12 L232.81,568.10 L233.19,568.08 L233.57,568.06 L233.95,568.04 L234.33,568.02 L234.71,568.00 L235.09,567.98 L235.47,567.96 L235.85,567.94 L236.23,567.93 L236.61,567.91 L236.99,567.89 L237.37,567.87 L237.75,567.85 L238.13,567.84 L238.51,567.82 L238.90,567.80 L239.28,567.79 L239.66,567.77 L240.04,567.75 L240.42,567.74 L240.80,567.72 L241.18,567.71 L241.56,567.69 L241.94,567.68 L242.32,567.66 L242.70,567.65 L243.08,567.63 L243.46,567.62 L243.84,567.61 L244.22,567.59 L244.60,567.58 L244.98,567.56 L245.36,567.55 L245.74,567.54 L246.12,567.53 L246.50,567.51 L246.89,567.50 L247.27,567.49 L247.65,567.48 L248.03,567.46 L248.41,567.45 L248.79,567.44 L249.17,567.43 L249.55,567.42 L249.93,567.41 L250.31,567.40 L250.69,567.39 L251.07,567.38 L251.45,567.37 L251.83,567.36 L252.21,567.35 L252.59,567.34 L252.97,567.33 L253.35,567.32 L253.73,567.31 L254.12,567.31 L254.50,567.30 L254.88,567.29 L255.26,567.28 L255.64,567.27 L256.02,567.27 L256.40,567.26 L256.78,567.25 L257.16,567.25 L257.54,567.24 L257.92,567.23 L258.30,567.23 L258.68,567.22 L259.06,567.21 L259.44,567.21 L259.82,567.20 L260.20,567.20 L260.58,567.19 L260.96,567.19 L261.34,567.18 L261.73,567.18 L262.11,567.18 L262.49,567.17 L262.87,567.17 L263.25,567.16 L263.63,567.16 L264.01,567.16 L264.39,567.15 L264.77,567.15 L265.15,567.15 L265.53,567.15 L265.91,567.14 L266.29,567.14 L266.67,567.14 L267.05,567.14 L267.43,567.14 L267.81,567.13 L268.19,567.13 L268.57,567.13 L268.95,567.13 L269.34,567.13 L269.72,567.13 L270.10,567.13 L270.48,567.13 L270.86,567.13 L271.24,567.13 L271.62,567.13 L272.00,567.13 L272.38,567.13 L272.76,567.13 L273.14,567.14 L273.14,567.14 L273.29,571.05 L273.44,574.79 L273.60,578.33 L273.75,581.66 L273.90,584.76 L274.05,587.69 L274.21,590.49 L274.36,593.11 L274.51,595.52 L274.66,597.67 L274.81,599.60 L274.97,601.38 L275.12,603.02 L275.27,604.51 L275.42,605.86 L275.58,607.08 L275.73,608.21 L275.88,609.25 L276.03,610.20 L276.18,611.07 L276.34,611.87 L276.49,612.62 L276.64,613.31 L276.79,613.95 L276.94,614.55 L277.10,615.12 L277.25,615.66 L277.40,616.17 L277.55,616.63 L277.71,617.03 L278.09,617.86 L278.47,618.56 L278.85,619.18 L279.23,619.76 L279.61,620.31 L279.99,620.81 L280.37,621.28 L280.75,621.74 L281.13,622.20 L281.51,622.64 L281.89,623.07 L282.27,623.49 L282.65,623.89 L283.03,624.28 L283.41,624.64 L283.79,625.00 L284.17,625.36 L284.56,625.70 L284.94,626.03 L285.32,626.36 L285.70,626.67 L286.08,626.96 L286.46,627.24 L286.84,627.50 L287.22,627.75 L287.60,627.99 L287.98,628.23 L288.36,628.45 L288.74,628.67 L289.12,628.88 L289.50,629.08 L289.88,629.28 L290.26,629.47 L290.64,629.65 L291.02,629.83 L291.40,629.99 L291.78,630.16 L292.16,630.31 L292.55,630.47 L292.93,630.61 L293.31,630.76 L293.69,630.90 L294.07,631.04 L294.45,631.17 L294.83,631.30 L295.21,631.43 L295.59,631.55 L295.97,631.67 L296.35,631.79 L296.73,631.90 L297.11,632.01 L297.49,632.13 L297.87,632.23 L298.25,632.34 L298.63,632.44 L299.01,632.55 L299.39,632.64 L299.77,632.74 L300.16,632.84 L300.54,632.93 L300.92,633.03 L301.30,633.12 L301.68,633.21 L302.06,633.29 L302.44,633.38 L302.82,633.47 L303.20,633.55 L303.58,633.64 L303.96,633.72 L304.34,633.80 L304.72,633.88 L305.10,633.97 L305.48,634.05 L305.86,634.13 L306.24,634.21 L306.62,634.28 L307.00,634.36 L307.38,634.44 L307.77,634.51 L308.15,634.59 L308.53,634.66 L308.91,634.73 L309.29,634.81 L309.67,634.88 L310.05,634.95 L310.43,635.02 L310.81,635.09 L311.19,635.16 L311.57,635.23 L311.95,635.30 L312.33,635.37 L312.71,635.44 L313.09,635.51 L313.47,635.58 L313.85,635.64 L314.23,635.71 L314.61,635.78 L315.00,635.85 L315.38,635.91 L315.76,635.98 L316.14,636.05 L316.52,636.11 L316.90,636.18 L317.28,636.25 L317.66,636.31 L318.04,636.38 L318.42,636.44 L318.80,636.51 L319.18,636.57 L319.56,636.63 L319.94,636.70 L320.47,636.79" fill="none" stroke="#000" stroke-width="6.0" stroke-linejoin="round"/>
<path d="M60.06,676.40 L90.50,676.40 L90.50,676.40 L90.65,667.28 L90.80,660.34 L90.96,654.97 L91.11,650.72 L91.26,647.28 L91.41,644.44 L91.57,642.02 L91.72,639.93 L91.87,638.09 L92.02,636.43 L92.17,634.92 L92.33,633.53 L92.48,632.24 L92.63,631.03 L92.78,629.89 L92.94,628.81 L93.09,627.78 L93.24,626.81 L93.39,625.88 L93.54,625.00 L93.70,624.15 L93.85,623.34 L94.00,622.57 L94.15,621.83 L94.31,621.12 L94.46,620.44 L94.61,619.79 L94.76,619.17 L94.91,618.57 L95.07,618.00 L95.45,616.67 L95.83,615.48 L96.21,614.40 L96.59,613.43 L96.97,612.55 L97.35,611.76 L97.73,611.05 L98.11,610.40 L98.49,609.82 L98.87,609.29 L99.25,608.81 L99.63,608.37 L100.01,607.97 L100.39,607.60 L100.77,607.27 L101.15,606.97 L101.53,606.69 L101.92,606.43 L102.30,606.19 L102.68,605.97 L103.06,605.77 L103.44,605.58 L103.82,605.41 L104.20,605.24 L104.58,605.09 L104.96,604.95 L105.34,604.81 L105.72,604.68 L106.10,604.56 L106.48,604.45 L106.86,604.34 L107.24,604.23 L107.62,604.13 L108.00,604.04 L108.38,603.94 L108.76,603.85 L109.14,603.77 L109.53,603.68 L109.91,603.60 L110.29,603.52 L110.67,603.44 L111.05,603.37 L111.43,603.29 L111.81,603.22 L112.19,603.15 L112.57,603.08 L112.95,603.01 L113.33,602.94 L113.71,602.87 L114.09,602.80 L114.47,602.74 L114.85,602.67 L115.23,602.61 L115.61,602.54 L115.99,602.48 L116.37,602.42 L116.75,602.35 L117.14,602.29 L117.52,602.23 L117.90,602.17 L118.28,602.11 L118.66,602.05 L119.04,601.99 L119.42,601.93 L119.80,601.87 L120.18,601.81 L120.56,601.75 L120.94,601.69 L121.32,601.63 L121.70,601.57 L122.08,601.51 L122.46,601.45 L122.84,601.39 L123.22,601.34 L123.60,601.28 L123.98,601.22 L124.36,601.17 L124.75,601.11 L125.13,601.05 L125.51,600.99 L125.89,600.94 L126.27,600.88 L126.65,600.83 L127.03,600.77 L127.41,600.71 L127.79,600.66 L128.17,600.60 L128.55,600.55 L128.93,600.49 L129.31,600.44 L129.69,600.39 L130.07,600.33 L130.45,600.28 L130.83,600.22 L131.21,600.17 L131.59,600.11 L131.97,600.06 L132.36,600.01 L132.74,599.95 L133.12,599.90 L133.50,599.85 L133.88,599.80 L134.26,599.74 L134.64,599.69 L135.02,599.64 L135.40,599.59 L135.78,599.54 L136.16,599.48 L136.54,599.43 L136.92,599.38 L137.30,599.33 L137.68,599.28 L138.06,599.23 L138.44,599.18 L138.82,599.13 L139.20,599.08 L139.58,599.03 L139.97,598.98 L140.35,598.93 L140.73,598.88 L141.11,598.83 L141.49,598.78 L141.87,598.73 L142.25,598.68 L142.63,598.63 L143.01,598.58 L143.39,598.53 L143.77,598.48 L144.15,598.44 L144.53,598.39 L144.91,598.34 L145.29,598.29 L145.67,598.24 L146.05,598.20 L146.43,598.15 L146.81,598.10 L147.19,598.06 L147.57,598.01 L147.96,597.96 L148.34,597.92 L148.72,597.87 L149.10,597.82 L149.48,597.78 L149.86,597.73 L150.24,597.69 L150.62,597.64 L151.00,597.59 L151.38,597.55 L151.76,597.50 L152.14,597.46 L152.52,597.41 L152.90,597.37 L153.28,597.33 L153.66,597.28 L154.04,597.24 L154.42,597.19 L154.80,597.15 L155.19,597.11 L155.57,597.06 L155.95,597.02 L156.33,596.97 L156.71,596.93 L157.09,596.89 L157.47,596.85 L157.85,596.80 L158.23,596.76 L158.61,596.72 L158.99,596.68 L159.37,596.63 L159.75,596.59 L160.13,596.55 L160.51,596.51 L160.89,596.47 L161.27,596.43 L161.65,596.39 L162.03,596.34 L162.41,596.30 L162.80,596.26 L163.18,596.22 L163.56,596.18 L163.94,596.14 L164.32,596.10 L164.70,596.06 L165.08,596.02 L165.46,595.98 L165.84,595.94 L166.22,595.90 L166.60,595.86 L166.98,595.83 L167.36,595.79 L167.74,595.75 L168.12,595.71 L168.50,595.67 L168.88,595.63 L169.26,595.59 L169.64,595.56 L170.02,595.52 L170.41,595.48 L170.79,595.44 L171.17,595.41 L171.55,595.37 L171.93,595.33 L172.31,595.29 L172.69,595.26 L173.07,595.22 L173.45,595.18 L173.83,595.15 L174.21,595.11 L174.59,595.08 L174.97,595.04 L175.35,595.00 L175.73,594.97 L176.11,594.93 L176.49,594.90 L176.87,594.86 L177.25,594.83 L177.63,594.79 L178.01,594.76 L178.40,594.72 L178.78,594.69 L179.16,594.65 L179.54,594.62 L179.92,594.58 L180.30,594.55 L180.68,594.52 L181.06,594.48 L181.44,594.45 L181.82,594.42 L182.20,594.38 L182.58,594.35 L182.96,594.32 L183.34,594.28 L183.72,594.25 L184.10,594.22 L184.48,594.19 L184.86,594.15 L185.24,594.12 L185.62,594.09 L186.01,594.06 L186.39,594.03 L186.77,593.99 L187.15,593.96 L187.53,593.93 L187.91,593.90 L188.29,593.87 L188.67,593.84 L189.05,593.81 L189.43,593.78 L189.81,593.75 L190.19,593.72 L190.57,593.69 L190.95,593.66 L191.33,593.63 L191.71,593.60 L192.09,593.57 L192.47,593.54 L192.85,593.51 L193.24,593.48 L193.62,593.45 L194.00,593.42 L194.38,593.39 L194.76,593.36 L195.14,593.33 L195.52,593.30 L195.90,593.28 L196.28,593.25 L196.66,593.22 L197.04,593.19 L197.42,593.16 L197.80,593.14 L198.18,593.11 L198.56,593.08 L198.94,593.05 L199.32,593.03 L199.70,593.00 L200.08,592.97 L200.46,592.95 L200.84,592.92 L201.23,592.89 L201.61,592.87 L201.99,592.84 L202.37,592.81 L202.75,592.79 L203.13,592.76 L203.51,592.74 L203.89,592.71 L204.27,592.69 L204.65,592.66 L205.03,592.63 L205.41,592.61 L205.79,592.58 L206.17,592.56 L206.55,592.54 L206.93,592.51 L207.31,592.49 L207.69,592.46 L208.07,592.44 L208.45,592.41 L208.84,592.39 L209.22,592.37 L209.60,592.34 L209.98,592.32 L210.36,592.30 L210.74,592.27 L211.12,592.25 L211.50,592.23 L211.88,592.20 L212.26,592.18 L212.64,592.16 L213.02,592.14 L213.40,592.11 L213.78,592.09 L214.16,592.07 L214.54,592.05 L214.92,592.02 L215.30,592.00 L215.68,591.98 L216.06,591.96 L216.45,591.94 L216.83,591.92 L217.21,591.90 L217.59,591.87 L217.97,591.85 L218.35,591.83 L218.73,591.81 L219.11,591.79 L219.49,591.77 L219.87,591.75 L220.25,591.73 L220.63,591.71 L221.01,591.69 L221.39,591.67 L221.77,591.65 L222.15,591.63 L222.53,591.61 L222.91,591.59 L223.29,591.57 L223.68,591.56 L224.06,591.54 L224.44,591.52 L224.82,591.50 L225.20,591.48 L225.58,591.46 L225.96,591.44 L226.34,591.43 L226.72,591.41 L227.10,591.39 L227.48,591.37 L227.86,591.35 L228.24,591.34 L228.62,591.32 L229.00,591.30 L229.38,591.28 L229.76,591.27 L230.14,591.25 L230.52,591.23 L230.90,591.22 L231.28,591.20 L231.67,591.18 L232.05,591.17 L232.43,591.15 L232.81,591.13 L233.19,591.12 L233.57,591.10 L233.95,591.09 L234.33,591.07 L234.71,591.06 L235.09,591.04 L235.47,591.02 L235.85,591.01 L236.23,590.99 L236.61,590.98 L236.99,590.96 L237.37,590.95 L237.75,590.93 L238.13,590.92 L238.51,590.91 L238.90,590.89 L239.28,590.88 L239.66,590.86 L240.04,590.85 L240.42,590.84 L240.80,590.82 L241.18,590.81 L241.56,590.79 L241.94,590.78 L242.32,590.77 L242.70,590.75 L243.08,590.74 L243.46,590.73 L243.84,590.72 L244.22,590.70 L244.60,590.69 L244.98,590.68 L245.36,590.67 L245.74,590.65 L246.12,590.64 L246.50,590.63 L246.89,590.62 L247.27,590.61 L247.65,590.59 L248.03,590.58 L248.41,590.57 L248.79,590.56 L249.17,590.55 L249.55,590.54 L249.93,590.53 L250.31,590.52 L250.69,590.50 L251.07,590.49 L251.45,590.48 L251.83,590.47 L252.21,590.46 L252.59,590.45 L252.97,590.44 L253.35,590.43 L253.73,590.42 L254.12,590.41 L254.50,590.40 L254.88,590.39 L255.26,590.38 L255.64,590.37 L256.02,590.36 L256.40,590.36 L256.78,590.35 L257.16,590.34 L257.54,590.33 L257.92,590.32 L258.30,590.31 L258.68,590.30 L259.06,590.29 L259.44,590.29 L259.82,590.28 L260.20,590.27 L260.58,590.26 L260.96,590.25 L261.34,590.25 L261.73,590.24 L262.11,590.23 L262.49,590.22 L262.87,590.22 L263.25,590.21 L263.63,590.20 L264.01,590.19 L264.39,590.19 L264.77,590.18 L265.15,590.17 L265.53,590.17 L265.91,590.16 L266.29,590.15 L266.67,590.15 L267.05,590.14 L267.43,590.14 L267.81,590.13 L268.19,590.12 L268.57,590.12 L268.95,590.11 L269.34,590.11 L269.72,590.10 L270.10,590.10 L270.48,590.09 L270.86,590.09 L271.24,590.08 L271.62,590.08 L272.00,590.07 L272.38,590.07 L272.76,590.06 L273.14,590.06 L273.14,590.06 L273.29,592.77 L273.44,595.37 L273.60,597.83 L273.75,600.14 L273.90,602.29 L274.05,604.32 L274.21,606.27 L274.36,608.09 L274.51,609.76 L274.66,611.25 L274.81,612.59 L274.97,613.83 L275.12,614.97 L275.27,616.00 L275.42,616.94 L275.58,617.79 L275.73,618.57 L275.88,619.29 L276.03,619.95 L276.18,620.56 L276.34,621.11 L276.49,621.63 L276.64,622.11 L276.79,622.55 L276.94,622.97 L277.10,623.36 L277.25,623.74 L277.40,624.10 L277.55,624.41 L277.71,624.69 L278.09,625.27 L278.47,625.76 L278.85,626.18 L279.23,626.59 L279.61,626.97 L279.99,627.32 L280.37,627.65 L280.75,627.97 L281.13,628.28 L281.51,628.59 L281.89,628.89 L282.27,629.18 L282.65,629.46 L283.03,629.72 L283.41,629.98 L283.79,630.23 L284.17,630.47 L284.56,630.71 L284.94,630.94 L285.32,631.17 L285.70,631.38 L286.08,631.59 L286.46,631.78 L286.84,631.96 L287.22,632.14 L287.60,632.30 L287.98,632.47 L288.36,632.62 L288.74,632.77 L289.12,632.92 L289.50,633.06 L289.88,633.20 L290.26,633.33 L290.64,633.45 L291.02,633.58 L291.40,633.69 L291.78,633.80 L292.16,633.91 L292.55,634.02 L292.93,634.12 L293.31,634.22 L293.69,634.32 L294.07,634.42 L294.45,634.51 L294.83,634.60 L295.21,634.69 L295.59,634.77 L295.97,634.86 L296.35,634.94 L296.73,635.02 L297.11,635.10 L297.49,635.17 L297.87,635.25 L298.25,635.32 L298.63,635.39 L299.01,635.46 L299.39,635.53 L299.77,635.60 L300.16,635.67 L300.54,635.73 L300.92,635.80 L301.30,635.86 L301.68,635.92 L302.06,635.98 L302.44,636.04 L302.82,636.10 L303.20,636.16 L303.58,636.22 L303.96,636.28 L304.34,636.34 L304.72,636.39 L305.10,636.45 L305.48,636.51 L305.86,636.56 L306.24,636.62 L306.62,636.67 L307.00,636.72 L307.38,636.78 L307.77,636.83 L308.15,636.88 L308.53,636.93 L308.91,636.98 L309.29,637.03 L309.67,637.08 L310.05,637.13 L310.43,637.18 L310.81,637.23 L311.19,637.28 L311.57,637.33 L311.95,637.37 L312.33,637.42 L312.71,637.47 L313.09,637.52 L313.47,637.57 L313.85,637.61 L314.23,637.66 L314.61,637.71 L315.00,637.76 L315.38,637.80 L315.76,637.85 L316.14,637.90 L316.52,637.94 L316.90,637.99 L317.28,638.03 L317.66,638.08 L318.04,638.12 L318.42,638.17 L318.80,638.21 L319.18,638.26 L319.56,638.30 L319.94,638.35 L320.47,638.41" fill="none" stroke="#000" stroke-width="5.4" stroke-linejoin="round"/>
<path d="M60.06,676.40 L90.50,676.40 L90.50,676.40 L90.65,668.91 L90.80,663.11 L90.96,658.53 L91.11,654.84 L91.26,651.81 L91.41,649.25 L91.57,647.07 L91.72,645.16 L91.87,643.46 L92.02,641.95 L92.17,640.57 L92.33,639.30 L92.48,638.14 L92.63,637.05 L92.78,636.05 L92.94,635.10 L93.09,634.22 L93.24,633.39 L93.39,632.61 L93.54,631.88 L93.70,631.18 L93.85,630.53 L94.00,629.91 L94.15,629.33 L94.31,628.78 L94.46,628.26 L94.61,627.77 L94.76,627.30 L94.91,626.87 L95.07,626.45 L95.45,625.50 L95.83,624.68 L96.21,623.96 L96.59,623.33 L96.97,622.77 L97.35,622.28 L97.73,621.85 L98.11,621.47 L98.49,621.13 L98.87,620.83 L99.25,620.56 L99.63,620.32 L100.01,620.10 L100.39,619.90 L100.77,619.72 L101.15,619.55 L101.53,619.40 L101.92,619.26 L102.30,619.13 L102.68,619.01 L103.06,618.89 L103.44,618.78 L103.82,618.68 L104.20,618.58 L104.58,618.49 L104.96,618.40 L105.34,618.31 L105.72,618.22 L106.10,618.14 L106.48,618.06 L106.86,617.99 L107.24,617.91 L107.62,617.83 L108.00,617.76 L108.38,617.69 L108.76,617.62 L109.14,617.55 L109.53,617.48 L109.91,617.41 L110.29,617.34 L110.67,617.27 L111.05,617.20 L111.43,617.14 L111.81,617.07 L112.19,617.00 L112.57,616.94 L112.95,616.87 L113.33,616.81 L113.71,616.74 L114.09,616.68 L114.47,616.61 L114.85,616.55 L115.23,616.49 L115.61,616.42 L115.99,616.36 L116.37,616.30 L116.75,616.24 L117.14,616.17 L117.52,616.11 L117.90,616.05 L118.28,615.99 L118.66,615.93 L119.04,615.86 L119.42,615.80 L119.80,615.74 L120.18,615.68 L120.56,615.62 L120.94,615.56 L121.32,615.50 L121.70,615.44 L122.08,615.38 L122.46,615.32 L122.84,615.26 L123.22,615.20 L123.60,615.14 L123.98,615.08 L124.36,615.03 L124.75,614.97 L125.13,614.91 L125.51,614.85 L125.89,614.79 L126.27,614.74 L126.65,614.68 L127.03,614.62 L127.41,614.56 L127.79,614.51 L128.17,614.45 L128.55,614.39 L128.93,614.34 L129.31,614.28 L129.69,614.22 L130.07,614.17 L130.45,614.11 L130.83,614.06 L131.21,614.00 L131.59,613.94 L131.97,613.89 L132.36,613.83 L132.74,613.78 L133.12,613.72 L133.50,613.67 L133.88,613.62 L134.26,613.56 L134.64,613.51 L135.02,613.45 L135.40,613.40 L135.78,613.35 L136.16,613.29 L136.54,613.24 L136.92,613.19 L137.30,613.13 L137.68,613.08 L138.06,613.03 L138.44,612.98 L138.82,612.92 L139.20,612.87 L139.58,612.82 L139.97,612.77 L140.35,612.72 L140.73,612.66 L141.11,612.61 L141.49,612.56 L141.87,612.51 L142.25,612.46 L142.63,612.41 L143.01,612.36 L143.39,612.31 L143.77,612.26 L144.15,612.21 L144.53,612.16 L144.91,612.11 L145.29,612.06 L145.67,612.01 L146.05,611.96 L146.43,611.91 L146.81,611.86 L147.19,611.81 L147.57,611.76 L147.96,611.71 L148.34,611.67 L148.72,611.62 L149.10,611.57 L149.48,611.52 L149.86,611.47 L150.24,611.43 L150.62,611.38 L151.00,611.33 L151.38,611.28 L151.76,611.24 L152.14,611.19 L152.52,611.14 L152.90,611.09 L153.28,611.05 L153.66,611.00 L154.04,610.95 L154.42,610.91 L154.80,610.86 L155.19,610.82 L155.57,610.77 L155.95,610.72 L156.33,610.68 L156.71,610.63 L157.09,610.59 L157.47,610.54 L157.85,610.50 L158.23,610.45 L158.61,610.41 L158.99,610.36 L159.37,610.32 L159.75,610.27 L160.13,610.23 L160.51,610.19 L160.89,610.14 L161.27,610.10 L161.65,610.05 L162.03,610.01 L162.41,609.97 L162.80,609.92 L163.18,609.88 L163.56,609.84 L163.94,609.79 L164.32,609.75 L164.70,609.71 L165.08,609.66 L165.46,609.62 L165.84,609.58 L166.22,609.54 L166.60,609.49 L166.98,609.45 L167.36,609.41 L167.74,609.37 L168.12,609.33 L168.50,609.29 L168.88,609.24 L169.26,609.20 L169.64,609.16 L170.02,609.12 L170.41,609.08 L170.79,609.04 L171.17,609.00 L171.55,608.96 L171.93,608.92 L172.31,608.87 L172.69,608.83 L173.07,608.79 L173.45,608.75 L173.83,608.71 L174.21,608.67 L174.59,608.63 L174.97,608.59 L175.35,608.55 L175.73,608.52 L176.11,608.48 L176.49,608.44 L176.87,608.40 L177.25,608.36 L177.63,608.32 L178.01,608.28 L178.40,608.24 L178.78,608.20 L179.16,608.16 L179.54,608.13 L179.92,608.09 L180.30,608.05 L180.68,608.01 L181.06,607.97 L181.44,607.94 L181.82,607.90 L182.20,607.86 L182.58,607.82 L182.96,607.79 L183.34,607.75 L183.72,607.71 L184.10,607.67 L184.48,607.64 L184.86,607.60 L185.24,607.56 L185.62,607.53 L186.01,607.49 L186.39,607.45 L186.77,607.42 L187.15,607.38 L187.53,607.34 L187.91,607.31 L188.29,607.27 L188.67,607.23 L189.05,607.20 L189.43,607.16 L189.81,607.13 L190.19,607.09 L190.57,607.06 L190.95,607.02 L191.33,606.99 L191.71,606.95 L192.09,606.92 L192.47,606.88 L192.85,606.85 L193.24,606.81 L193.62,606.78 L194.00,606.74 L194.38,606.71 L194.76,606.67 L195.14,606.64 L195.52,606.60 L195.90,606.57 L196.28,606.53 L196.66,606.50 L197.04,606.47 L197.42,606.43 L197.80,606.40 L198.18,606.37 L198.56,606.33 L198.94,606.30 L199.32,606.27 L199.70,606.23 L200.08,606.20 L200.46,606.17 L200.84,606.13 L201.23,606.10 L201.61,606.07 L201.99,606.03 L202.37,606.00 L202.75,605.97 L203.13,605.94 L203.51,605.90 L203.89,605.87 L204.27,605.84 L204.65,605.81 L205.03,605.77 L205.41,605.74 L205.79,605.71 L206.17,605.68 L206.55,605.65 L206.93,605.61 L207.31,605.58 L207.69,605.55 L208.07,605.52 L208.45,605.49 L208.84,605.46 L209.22,605.43 L209.60,605.40 L209.98,605.36 L210.36,605.33 L210.74,605.30 L211.12,605.27 L211.50,605.24 L211.88,605.21 L212.26,605.18 L212.64,605.15 L213.02,605.12 L213.40,605.09 L213.78,605.06 L214.16,605.03 L214.54,605.00 L214.92,604.97 L215.30,604.94 L215.68,604.91 L216.06,604.88 L216.45,604.85 L216.83,604.82 L217.21,604.79 L217.59,604.76 L217.97,604.73 L218.35,604.70 L218.73,604.67 L219.11,604.64 L219.49,604.61 L219.87,604.58 L220.25,604.55 L220.63,604.52 L221.01,604.50 L221.39,604.47 L221.77,604.44 L222.15,604.41 L222.53,604.38 L222.91,604.35 L223.29,604.32 L223.68,604.30 L224.06,604.27 L224.44,604.24 L224.82,604.21 L225.20,604.18 L225.58,604.15 L225.96,604.13 L226.34,604.10 L226.72,604.07 L227.10,604.04 L227.48,604.01 L227.86,603.99 L228.24,603.96 L228.62,603.93 L229.00,603.90 L229.38,603.88 L229.76,603.85 L230.14,603.82 L230.52,603.80 L230.90,603.77 L231.28,603.74 L231.67,603.71 L232.05,603.69 L232.43,603.66 L232.81,603.63 L233.19,603.61 L233.57,603.58 L233.95,603.55 L234.33,603.53 L234.71,603.50 L235.09,603.47 L235.47,603.45 L235.85,603.42 L236.23,603.39 L236.61,603.37 L236.99,603.34 L237.37,603.32 L237.75,603.29 L238.13,603.26 L238.51,603.24 L238.90,603.21 L239.28,603.19 L239.66,603.16 L240.04,603.14 L240.42,603.11 L240.80,603.08 L241.18,603.06 L241.56,603.03 L241.94,603.01 L242.32,602.98 L242.70,602.96 L243.08,602.93 L243.46,602.91 L243.84,602.88 L244.22,602.86 L244.60,602.83 L244.98,602.81 L245.36,602.78 L245.74,602.76 L246.12,602.73 L246.50,602.71 L246.89,602.68 L247.27,602.66 L247.65,602.63 L248.03,602.61 L248.41,602.59 L248.79,602.56 L249.17,602.54 L249.55,602.51 L249.93,602.49 L250.31,602.46 L250.69,602.44 L251.07,602.42 L251.45,602.39 L251.83,602.37 L252.21,602.34 L252.59,602.32 L252.97,602.30 L253.35,602.27 L253.73,602.25 L254.12,602.23 L254.50,602.20 L254.88,602.18 L255.26,602.15 L255.64,602.13 L256.02,602.11 L256.40,602.08 L256.78,602.06 L257.16,602.04 L257.54,602.01 L257.92,601.99 L258.30,601.97 L258.68,601.95 L259.06,601.92 L259.44,601.90 L259.82,601.88 L260.20,601.85 L260.58,601.83 L260.96,601.81 L261.34,601.79 L261.73,601.76 L262.11,601.74 L262.49,601.72 L262.87,601.70 L263.25,601.67 L263.63,601.65 L264.01,601.63 L264.39,601.61 L264.77,601.58 L265.15,601.56 L265.53,601.54 L265.91,601.52 L266.29,601.50 L266.67,601.47 L267.05,601.45 L267.43,601.43 L267.81,601.41 L268.19,601.39 L268.57,601.36 L268.95,601.34 L269.34,601.32 L269.72,601.30 L270.10,601.28 L270.48,601.26 L270.86,601.23 L271.24,601.21 L271.62,601.19 L272.00,601.17 L272.38,601.15 L272.76,601.13 L273.14,601.11 L273.14,601.11 L273.29,603.60 L273.44,605.98 L273.60,608.23 L273.75,610.36 L273.90,612.33 L274.05,614.20 L274.21,615.98 L274.36,617.65 L274.51,619.18 L274.66,620.55 L274.81,621.78 L274.97,622.92 L275.12,623.96 L275.27,624.91 L275.42,625.77 L275.58,626.55 L275.73,627.27 L275.88,627.93 L276.03,628.53 L276.18,629.09 L276.34,629.60 L276.49,630.07 L276.64,630.51 L276.79,630.92 L276.94,631.30 L277.10,631.66 L277.25,632.01 L277.40,632.33 L277.55,632.63 L277.71,632.88 L278.09,633.41 L278.47,633.86 L278.85,634.25 L279.23,634.62 L279.61,634.97 L279.99,635.29 L280.37,635.59 L280.75,635.88 L281.13,636.17 L281.51,636.46 L281.89,636.73 L282.27,637.00 L282.65,637.25 L283.03,637.50 L283.41,637.73 L283.79,637.96 L284.17,638.19 L284.56,638.40 L284.94,638.62 L285.32,638.82 L285.70,639.02 L286.08,639.21 L286.46,639.39 L286.84,639.55 L287.22,639.71 L287.60,639.86 L287.98,640.01 L288.36,640.16 L288.74,640.30 L289.12,640.43 L289.50,640.56 L289.88,640.68 L290.26,640.80 L290.64,640.92 L291.02,641.03 L291.40,641.14 L291.78,641.24 L292.16,641.34 L292.55,641.44 L292.93,641.53 L293.31,641.63 L293.69,641.72 L294.07,641.80 L294.45,641.89 L294.83,641.97 L295.21,642.05 L295.59,642.13 L295.97,642.21 L296.35,642.28 L296.73,642.35 L297.11,642.43 L297.49,642.50 L297.87,642.57 L298.25,642.63 L298.63,642.70 L299.01,642.76 L299.39,642.83 L299.77,642.89 L300.16,642.95 L300.54,643.01 L300.92,643.07 L301.30,643.13 L301.68,643.18 L302.06,643.24 L302.44,643.30 L302.82,643.35 L303.20,643.41 L303.58,643.46 L303.96,643.51 L304.34,643.56 L304.72,643.62 L305.10,643.67 L305.48,643.72 L305.86,643.77 L306.24,643.82 L306.62,643.87 L307.00,643.92 L307.38,643.97 L307.77,644.02 L308.15,644.06 L308.53,644.11 L308.91,644.16 L309.29,644.20 L309.67,644.25 L310.05,644.29 L310.43,644.34 L310.81,644.38 L311.19,644.43 L311.57,644.47 L311.95,644.52 L312.33,644.56 L312.71,644.61 L313.09,644.65 L313.47,644.69 L313.85,644.74 L314.23,644.78 L314.61,644.82 L315.00,644.87 L315.38,644.91 L315.76,644.95 L316.14,645.00 L316.52,645.04 L316.90,645.08 L317.28,645.12 L317.66,645.16 L318.04,645.20 L318.42,645.25 L318.80,645.29 L319.18,645.33 L319.56,645.37 L319.94,645.41 L320.47,645.47" fill="none" stroke="#000" stroke-width="4.1" stroke-linejoin="round"/>
<path d="M60.06,676.40 L90.50,676.40 L90.50,676.40 L90.65,669.27 L90.80,663.77 L90.96,659.43 L91.11,655.95 L91.26,653.08 L91.41,650.69 L91.57,648.64 L91.72,646.85 L91.87,645.28 L92.02,643.87 L92.17,642.59 L92.33,641.42 L92.48,640.35 L92.63,639.35 L92.78,638.43 L92.94,637.57 L93.09,636.76 L93.24,636.00 L93.39,635.29 L93.54,634.62 L93.70,633.99 L93.85,633.40 L94.00,632.84 L94.15,632.31 L94.31,631.81 L94.46,631.34 L94.61,630.90 L94.76,630.48 L94.91,630.08 L95.07,629.71 L95.45,628.85 L95.83,628.11 L96.21,627.46 L96.59,626.89 L96.97,626.39 L97.35,625.94 L97.73,625.55 L98.11,625.20 L98.49,624.89 L98.87,624.60 L99.25,624.35 L99.63,624.12 L100.01,623.91 L100.39,623.72 L100.77,623.55 L101.15,623.38 L101.53,623.23 L101.92,623.09 L102.30,622.95 L102.68,622.83 L103.06,622.71 L103.44,622.59 L103.82,622.48 L104.20,622.38 L104.58,622.28 L104.96,622.18 L105.34,622.08 L105.72,621.99 L106.10,621.90 L106.48,621.81 L106.86,621.72 L107.24,621.64 L107.62,621.55 L108.00,621.47 L108.38,621.39 L108.76,621.31 L109.14,621.23 L109.53,621.15 L109.91,621.07 L110.29,621.00 L110.67,620.92 L111.05,620.85 L111.43,620.77 L111.81,620.70 L112.19,620.62 L112.57,620.55 L112.95,620.48 L113.33,620.41 L113.71,620.34 L114.09,620.27 L114.47,620.20 L114.85,620.13 L115.23,620.06 L115.61,619.99 L115.99,619.92 L116.37,619.85 L116.75,619.79 L117.14,619.72 L117.52,619.65 L117.90,619.59 L118.28,619.52 L118.66,619.46 L119.04,619.39 L119.42,619.33 L119.80,619.27 L120.18,619.20 L120.56,619.14 L120.94,619.08 L121.32,619.01 L121.70,618.95 L122.08,618.89 L122.46,618.83 L122.84,618.77 L123.22,618.71 L123.60,618.65 L123.98,618.59 L124.36,618.53 L124.75,618.47 L125.13,618.41 L125.51,618.35 L125.89,618.30 L126.27,618.24 L126.65,618.18 L127.03,618.12 L127.41,618.07 L127.79,618.01 L128.17,617.96 L128.55,617.90 L128.93,617.84 L129.31,617.79 L129.69,617.73 L130.07,617.68 L130.45,617.63 L130.83,617.57 L131.21,617.52 L131.59,617.46 L131.97,617.41 L132.36,617.36 L132.74,617.31 L133.12,617.25 L133.50,617.20 L133.88,617.15 L134.26,617.10 L134.64,617.05 L135.02,617.00 L135.40,616.95 L135.78,616.90 L136.16,616.85 L136.54,616.80 L136.92,616.75 L137.30,616.70 L137.68,616.65 L138.06,616.60 L138.44,616.55 L138.82,616.50 L139.20,616.45 L139.58,616.41 L139.97,616.36 L140.35,616.31 L140.73,616.26 L141.11,616.22 L141.49,616.17 L141.87,616.12 L142.25,616.08 L142.63,616.03 L143.01,615.98 L143.39,615.94 L143.77,615.89 L144.15,615.85 L144.53,615.80 L144.91,615.76 L145.29,615.71 L145.67,615.67 L146.05,615.62 L146.43,615.58 L146.81,615.53 L147.19,615.49 L147.57,615.45 L147.96,615.40 L148.34,615.36 L148.72,615.32 L149.10,615.27 L149.48,615.23 L149.86,615.19 L150.24,615.15 L150.62,615.10 L151.00,615.06 L151.38,615.02 L151.76,614.98 L152.14,614.94 L152.52,614.90 L152.90,614.86 L153.28,614.81 L153.66,614.77 L154.04,614.73 L154.42,614.69 L154.80,614.65 L155.19,614.61 L155.57,614.57 L155.95,614.53 L156.33,614.49 L156.71,614.45 L157.09,614.41 L157.47,614.37 L157.85,614.33 L158.23,614.29 L158.61,614.26 L158.99,614.22 L159.37,614.18 L159.75,614.14 L160.13,614.10 L160.51,614.06 L160.89,614.02 L161.27,613.99 L161.65,613.95 L162.03,613.91 L162.41,613.87 L162.80,613.84 L163.18,613.80 L163.56,613.76 L163.94,613.72 L164.32,613.69 L164.70,613.65 L165.08,613.61 L165.46,613.58 L165.84,613.54 L166.22,613.50 L166.60,613.47 L166.98,613.43 L167.36,613.39 L167.74,613.36 L168.12,613.32 L168.50,613.29 L168.88,613.25 L169.26,613.21 L169.64,613.18 L170.02,613.14 L170.41,613.11 L170.79,613.07 L171.17,613.04 L171.55,613.00 L171.93,612.97 L172.31,612.93 L172.69,612.90 L173.07,612.86 L173.45,612.83 L173.83,612.80 L174.21,612.76 L174.59,612.73 L174.97,612.69 L175.35,612.66 L175.73,612.62 L176.11,612.59 L176.49,612.56 L176.87,612.52 L177.25,612.49 L177.63,612.46 L178.01,612.42 L178.40,612.39 L178.78,612.36 L179.16,612.32 L179.54,612.29 L179.92,612.26 L180.30,612.22 L180.68,612.19 L181.06,612.16 L181.44,612.12 L181.82,612.09 L182.20,612.06 L182.58,612.03 L182.96,611.99 L183.34,611.96 L183.72,611.93 L184.10,611.90 L184.48,611.86 L184.86,611.83 L185.24,611.80 L185.62,611.77 L186.01,611.74 L186.39,611.70 L186.77,611.67 L187.15,611.64 L187.53,611.61 L187.91,611.58 L188.29,611.55 L188.67,611.51 L189.05,611.48 L189.43,611.45 L189.81,611.42 L190.19,611.39 L190.57,611.36 L190.95,611.33 L191.33,611.30 L191.71,611.26 L192.09,611.23 L192.47,611.20 L192.85,611.17 L193.24,611.14 L193.62,611.11 L194.00,611.08 L194.38,611.05 L194.76,611.02 L195.14,610.99 L195.52,610.96 L195.90,610.93 L196.28,610.90 L196.66,610.87 L197.04,610.84 L197.42,610.81 L197.80,610.77 L198.18,610.74 L198.56,610.71 L198.94,610.68 L199.32,610.65 L199.70,610.62 L200.08,610.59 L200.46,610.56 L200.84,610.53 L201.23,610.51 L201.61,610.48 L201.99,610.45 L202.37,610.42 L202.75,610.39 L203.13,610.36 L203.51,610.33 L203.89,610.30 L204.27,610.27 L204.65,610.24 L205.03,610.21 L205.41,610.18 L205.79,610.15 L206.17,610.12 L206.55,610.09 L206.93,610.06 L207.31,610.03 L207.69,610.01 L208.07,609.98 L208.45,609.95 L208.84,609.92 L209.22,609.89 L209.60,609.86 L209.98,609.83 L210.36,609.80 L210.74,609.77 L211.12,609.74 L211.50,609.72 L211.88,609.69 L212.26,609.66 L212.64,609.63 L213.02,609.60 L213.40,609.57 L213.78,609.54 L214.16,609.52 L214.54,609.49 L214.92,609.46 L215.30,609.43 L215.68,609.40 L216.06,609.37 L216.45,609.34 L216.83,609.32 L217.21,609.29 L217.59,609.26 L217.97,609.23 L218.35,609.20 L218.73,609.18 L219.11,609.15 L219.49,609.12 L219.87,609.09 L220.25,609.06 L220.63,609.03 L221.01,609.01 L221.39,608.98 L221.77,608.95 L222.15,608.92 L222.53,608.90 L222.91,608.87 L223.29,608.84 L223.68,608.81 L224.06,608.78 L224.44,608.76 L224.82,608.73 L225.20,608.70 L225.58,608.67 L225.96,608.64 L226.34,608.62 L226.72,608.59 L227.10,608.56 L227.48,608.53 L227.86,608.51 L228.24,608.48 L228.62,608.45 L229.00,608.42 L229.38,608.40 L229.76,608.37 L230.14,608.34 L230.52,608.31 L230.90,608.29 L231.28,608.26 L231.67,608.23 L232.05,608.20 L232.43,608.18 L232.81,608.15 L233.19,608.12 L233.57,608.10 L233.95,608.07 L234.33,608.04 L234.71,608.01 L235.09,607.99 L235.47,607.96 L235.85,607.93 L236.23,607.90 L236.61,607.88 L236.99,607.85 L237.37,607.82 L237.75,607.80 L238.13,607.77 L238.51,607.74 L238.90,607.71 L239.28,607.69 L239.66,607.66 L240.04,607.63 L240.42,607.61 L240.80,607.58 L241.18,607.55 L241.56,607.53 L241.94,607.50 L242.32,607.47 L242.70,607.44 L243.08,607.42 L243.46,607.39 L243.84,607.36 L244.22,607.34 L244.60,607.31 L244.98,607.28 L245.36,607.26 L245.74,607.23 L246.12,607.20 L246.50,607.18 L246.89,607.15 L247.27,607.12 L247.65,607.10 L248.03,607.07 L248.41,607.04 L248.79,607.02 L249.17,606.99 L249.55,606.96 L249.93,606.94 L250.31,606.91 L250.69,606.88 L251.07,606.86 L251.45,606.83 L251.83,606.80 L252.21,606.78 L252.59,606.75 L252.97,606.72 L253.35,606.70 L253.73,606.67 L254.12,606.64 L254.50,606.62 L254.88,606.59 L255.26,606.56 L255.64,606.54 L256.02,606.51 L256.40,606.48 L256.78,606.46 L257.16,606.43 L257.54,606.41 L257.92,606.38 L258.30,606.35 L258.68,606.33 L259.06,606.30 L259.44,606.27 L259.82,606.25 L260.20,606.22 L260.58,606.19 L260.96,606.17 L261.34,606.14 L261.73,606.11 L262.11,606.09 L262.49,606.06 L262.87,606.04 L263.25,606.01 L263.63,605.98 L264.01,605.96 L264.39,605.93 L264.77,605.90 L265.15,605.88 L265.53,605.85 L265.91,605.83 L266.29,605.80 L266.67,605.77 L267.05,605.75 L267.43,605.72 L267.81,605.69 L268.19,605.67 L268.57,605.64 L268.95,605.62 L269.34,605.59 L269.72,605.56 L270.10,605.54 L270.48,605.51 L270.86,605.48 L271.24,605.46 L271.62,605.43 L272.00,605.41 L272.38,605.38 L272.76,605.35 L273.14,605.33 L273.14,605.33 L273.29,607.77 L273.44,610.09 L273.60,612.30 L273.75,614.38 L273.90,616.31 L274.05,618.13 L274.21,619.88 L274.36,621.51 L274.51,623.01 L274.66,624.35 L274.81,625.55 L274.97,626.66 L275.12,627.68 L275.27,628.61 L275.42,629.45 L275.58,630.22 L275.73,630.92 L275.88,631.56 L276.03,632.16 L276.18,632.70 L276.34,633.20 L276.49,633.66 L276.64,634.09 L276.79,634.49 L276.94,634.87 L277.10,635.22 L277.25,635.56 L277.40,635.88 L277.55,636.16 L277.71,636.41 L278.09,636.93 L278.47,637.37 L278.85,637.75 L279.23,638.11 L279.61,638.45 L279.99,638.77 L280.37,639.06 L280.75,639.35 L281.13,639.63 L281.51,639.91 L281.89,640.18 L282.27,640.44 L282.65,640.69 L283.03,640.93 L283.41,641.16 L283.79,641.38 L284.17,641.60 L284.56,641.82 L284.94,642.02 L285.32,642.22 L285.70,642.42 L286.08,642.60 L286.46,642.78 L286.84,642.94 L287.22,643.09 L287.60,643.24 L287.98,643.39 L288.36,643.53 L288.74,643.67 L289.12,643.80 L289.50,643.92 L289.88,644.05 L290.26,644.16 L290.64,644.28 L291.02,644.39 L291.40,644.49 L291.78,644.59 L292.16,644.69 L292.55,644.78 L292.93,644.88 L293.31,644.97 L293.69,645.05 L294.07,645.14 L294.45,645.22 L294.83,645.30 L295.21,645.38 L295.59,645.46 L295.97,645.53 L296.35,645.61 L296.73,645.68 L297.11,645.75 L297.49,645.82 L297.87,645.89 L298.25,645.95 L298.63,646.02 L299.01,646.08 L299.39,646.14 L299.77,646.20 L300.16,646.26 L300.54,646.32 L300.92,646.38 L301.30,646.44 L301.68,646.49 L302.06,646.55 L302.44,646.60 L302.82,646.65 L303.20,646.71 L303.58,646.76 L303.96,646.81 L304.34,646.86 L304.72,646.91 L305.10,646.97 L305.48,647.02 L305.86,647.07 L306.24,647.12 L306.62,647.16 L307.00,647.21 L307.38,647.26 L307.77,647.31 L308.15,647.35 L308.53,647.40 L308.91,647.44 L309.29,647.49 L309.67,647.53 L310.05,647.58 L310.43,647.62 L310.81,647.67 L311.19,647.71 L311.57,647.75 L311.95,647.80 L312.33,647.84 L312.71,647.88 L313.09,647.93 L313.47,647.97 L313.85,648.01 L314.23,648.05 L314.61,648.10 L315.00,648.14 L315.38,648.18 L315.76,648.22 L316.14,648.26 L316.52,648.30 L316.90,648.35 L317.28,648.39 L317.66,648.43 L318.04,648.47 L318.42,648.51 L318.80,648.55 L319.18,648.59 L319.56,648.63 L319.94,648.67 L320.47,648.72" fill="none" stroke="#000" stroke-width="4.1" stroke-linejoin="round"/>
<path d="M60.06,676.40 L90.50,676.40 L90.50,676.40 L90.65,667.11 L90.80,660.35 L90.96,655.38 L91.11,651.68 L91.26,648.88 L91.41,646.72 L91.57,645.02 L91.72,643.66 L91.87,642.54 L92.02,641.60 L92.17,640.78 L92.33,640.06 L92.48,639.42 L92.63,638.84 L92.78,638.31 L92.94,637.81 L93.09,637.34 L93.24,636.90 L93.39,636.49 L93.54,636.09 L93.70,635.71 L93.85,635.35 L94.00,635.01 L94.15,634.68 L94.31,634.37 L94.46,634.06 L94.61,633.77 L94.76,633.50 L94.91,633.23 L95.07,632.97 L95.45,632.37 L95.83,631.83 L96.21,631.34 L96.59,630.89 L96.97,630.48 L97.35,630.11 L97.73,629.77 L98.11,629.45 L98.49,629.17 L98.87,628.90 L99.25,628.66 L99.63,628.44 L100.01,628.23 L100.39,628.04 L100.77,627.86 L101.15,627.69 L101.53,627.53 L101.92,627.38 L102.30,627.24 L102.68,627.11 L103.06,626.99 L103.44,626.87 L103.82,626.75 L104.20,626.65 L104.58,626.54 L104.96,626.44 L105.34,626.35 L105.72,626.25 L106.10,626.16 L106.48,626.08 L106.86,625.99 L107.24,625.91 L107.62,625.83 L108.00,625.75 L108.38,625.67 L108.76,625.59 L109.14,625.52 L109.53,625.44 L109.91,625.37 L110.29,625.30 L110.67,625.23 L111.05,625.16 L111.43,625.09 L111.81,625.02 L112.19,624.95 L112.57,624.89 L112.95,624.82 L113.33,624.75 L113.71,624.69 L114.09,624.62 L114.47,624.56 L114.85,624.49 L115.23,624.43 L115.61,624.36 L115.99,624.30 L116.37,624.23 L116.75,624.17 L117.14,624.11 L117.52,624.05 L117.90,623.98 L118.28,623.92 L118.66,623.86 L119.04,623.80 L119.42,623.74 L119.80,623.67 L120.18,623.61 L120.56,623.55 L120.94,623.49 L121.32,623.43 L121.70,623.37 L122.08,623.31 L122.46,623.25 L122.84,623.19 L123.22,623.13 L123.60,623.07 L123.98,623.01 L124.36,622.95 L124.75,622.89 L125.13,622.83 L125.51,622.77 L125.89,622.72 L126.27,622.66 L126.65,622.60 L127.03,622.54 L127.41,622.48 L127.79,622.43 L128.17,622.37 L128.55,622.31 L128.93,622.25 L129.31,622.20 L129.69,622.14 L130.07,622.08 L130.45,622.03 L130.83,621.97 L131.21,621.91 L131.59,621.86 L131.97,621.80 L132.36,621.74 L132.74,621.69 L133.12,621.63 L133.50,621.58 L133.88,621.52 L134.26,621.47 L134.64,621.41 L135.02,621.36 L135.40,621.30 L135.78,621.25 L136.16,621.19 L136.54,621.14 L136.92,621.08 L137.30,621.03 L137.68,620.98 L138.06,620.92 L138.44,620.87 L138.82,620.82 L139.20,620.76 L139.58,620.71 L139.97,620.66 L140.35,620.60 L140.73,620.55 L141.11,620.50 L141.49,620.45 L141.87,620.39 L142.25,620.34 L142.63,620.29 L143.01,620.24 L143.39,620.19 L143.77,620.14 L144.15,620.08 L144.53,620.03 L144.91,619.98 L145.29,619.93 L145.67,619.88 L146.05,619.83 L146.43,619.78 L146.81,619.73 L147.19,619.68 L147.57,619.63 L147.96,619.58 L148.34,619.53 L148.72,619.48 L149.10,619.43 L149.48,619.38 L149.86,619.33 L150.24,619.28 L150.62,619.23 L151.00,619.18 L151.38,619.13 L151.76,619.09 L152.14,619.04 L152.52,618.99 L152.90,618.94 L153.28,618.89 L153.66,618.85 L154.04,618.80 L154.42,618.75 L154.80,618.70 L155.19,618.66 L155.57,618.61 L155.95,618.56 L156.33,618.51 L156.71,618.47 L157.09,618.42 L157.47,618.38 L157.85,618.33 L158.23,618.28 L158.61,618.24 L158.99,618.19 L159.37,618.14 L159.75,618.10 L160.13,618.05 L160.51,618.01 L160.89,617.96 L161.27,617.92 L161.65,617.87 L162.03,617.83 L162.41,617.78 L162.80,617.74 L163.18,617.69 L163.56,617.65 L163.94,617.61 L164.32,617.56 L164.70,617.52 L165.08,617.47 L165.46,617.43 L165.84,617.39 L166.22,617.34 L166.60,617.30 L166.98,617.26 L167.36,617.22 L167.74,617.17 L168.12,617.13 L168.50,617.09 L168.88,617.04 L169.26,617.00 L169.64,616.96 L170.02,616.92 L170.41,616.88 L170.79,616.83 L171.17,616.79 L171.55,616.75 L171.93,616.71 L172.31,616.67 L172.69,616.63 L173.07,616.59 L173.45,616.55 L173.83,616.51 L174.21,616.47 L174.59,616.42 L174.97,616.38 L175.35,616.34 L175.73,616.30 L176.11,616.26 L176.49,616.22 L176.87,616.19 L177.25,616.15 L177.63,616.11 L178.01,616.07 L178.40,616.03 L178.78,615.99 L179.16,615.95 L179.54,615.91 L179.92,615.87 L180.30,615.83 L180.68,615.80 L181.06,615.76 L181.44,615.72 L181.82,615.68 L182.20,615.64 L182.58,615.61 L182.96,615.57 L183.34,615.53 L183.72,615.49 L184.10,615.46 L184.48,615.42 L184.86,615.38 L185.24,615.35 L185.62,615.31 L186.01,615.27 L186.39,615.24 L186.77,615.20 L187.15,615.16 L187.53,615.13 L187.91,615.09 L188.29,615.06 L188.67,615.02 L189.05,614.98 L189.43,614.95 L189.81,614.91 L190.19,614.88 L190.57,614.84 L190.95,614.81 L191.33,614.77 L191.71,614.74 L192.09,614.70 L192.47,614.67 L192.85,614.63 L193.24,614.60 L193.62,614.57 L194.00,614.53 L194.38,614.50 L194.76,614.46 L195.14,614.43 L195.52,614.40 L195.90,614.36 L196.28,614.33 L196.66,614.30 L197.04,614.26 L197.42,614.23 L197.80,614.20 L198.18,614.17 L198.56,614.13 L198.94,614.10 L199.32,614.07 L199.70,614.04 L200.08,614.01 L200.46,613.97 L200.84,613.94 L201.23,613.91 L201.61,613.88 L201.99,613.85 L202.37,613.82 L202.75,613.78 L203.13,613.75 L203.51,613.72 L203.89,613.69 L204.27,613.66 L204.65,613.63 L205.03,613.60 L205.41,613.57 L205.79,613.54 L206.17,613.51 L206.55,613.48 L206.93,613.45 L207.31,613.42 L207.69,613.39 L208.07,613.36 L208.45,613.33 L208.84,613.30 L209.22,613.27 L209.60,613.24 L209.98,613.21 L210.36,613.18 L210.74,613.16 L211.12,613.13 L211.50,613.10 L211.88,613.07 L212.26,613.04 L212.64,613.01 L213.02,612.99 L213.40,612.96 L213.78,612.93 L214.16,612.90 L214.54,612.87 L214.92,612.85 L215.30,612.82 L215.68,612.79 L216.06,612.77 L216.45,612.74 L216.83,612.71 L217.21,612.68 L217.59,612.66 L217.97,612.63 L218.35,612.60 L218.73,612.58 L219.11,612.55 L219.49,612.53 L219.87,612.50 L220.25,612.47 L220.63,612.45 L221.01,612.42 L221.39,612.40 L221.77,612.37 L222.15,612.35 L222.53,612.32 L222.91,612.30 L223.29,612.27 L223.68,612.25 L224.06,612.22 L224.44,612.20 L224.82,612.17 L225.20,612.15 L225.58,612.12 L225.96,612.10 L226.34,612.07 L226.72,612.05 L227.10,612.03 L227.48,612.00 L227.86,611.98 L228.24,611.96 L228.62,611.93 L229.00,611.91 L229.38,611.89 L229.76,611.86 L230.14,611.84 L230.52,611.82 L230.90,611.79 L231.28,611.77 L231.67,611.75 L232.05,611.73 L232.43,611.70 L232.81,611.68 L233.19,611.66 L233.57,611.64 L233.95,611.61 L234.33,611.59 L234.71,611.57 L235.09,611.55 L235.47,611.53 L235.85,611.51 L236.23,611.49 L236.61,611.46 L236.99,611.44 L237.37,611.42 L237.75,611.40 L238.13,611.38 L238.51,611.36 L238.90,611.34 L239.28,611.32 L239.66,611.30 L240.04,611.28 L240.42,611.26 L240.80,611.24 L241.18,611.22 L241.56,611.20 L241.94,611.18 L242.32,611.16 L242.70,611.14 L243.08,611.12 L243.46,611.10 L243.84,611.08 L244.22,611.06 L244.60,611.04 L244.98,611.02 L245.36,611.00 L245.74,610.99 L246.12,610.97 L246.50,610.95 L246.89,610.93 L247.27,610.91 L247.65,610.89 L248.03,610.88 L248.41,610.86 L248.79,610.84 L249.17,610.82 L249.55,610.80 L249.93,610.79 L250.31,610.77 L250.69,610.75 L251.07,610.74 L251.45,610.72 L251.83,610.70 L252.21,610.68 L252.59,610.67 L252.97,610.65 L253.35,610.63 L253.73,610.62 L254.12,610.60 L254.50,610.58 L254.88,610.57 L255.26,610.55 L255.64,610.54 L256.02,610.52 L256.40,610.50 L256.78,610.49 L257.16,610.47 L257.54,610.46 L257.92,610.44 L258.30,610.43 L258.68,610.41 L259.06,610.40 L259.44,610.38 L259.82,610.37 L260.20,610.35 L260.58,610.34 L260.96,610.32 L261.34,610.31 L261.73,610.29 L262.11,610.28 L262.49,610.26 L262.87,610.25 L263.25,610.23 L263.63,610.22 L264.01,610.21 L264.39,610.19 L264.77,610.18 L265.15,610.17 L265.53,610.15 L265.91,610.14 L266.29,610.13 L266.67,610.11 L267.05,610.10 L267.43,610.09 L267.81,610.07 L268.19,610.06 L268.57,610.05 L268.95,610.04 L269.34,610.02 L269.72,610.01 L270.10,610.00 L270.48,609.99 L270.86,609.97 L271.24,609.96 L271.62,609.95 L272.00,609.94 L272.38,609.93 L272.76,609.91 L273.14,609.90 L273.14,609.90 L273.29,612.27 L273.44,614.52 L273.60,616.66 L273.75,618.68 L273.90,620.55 L274.05,622.32 L274.21,624.01 L274.36,625.59 L274.51,627.05 L274.66,628.35 L274.81,629.51 L274.97,630.59 L275.12,631.58 L275.27,632.48 L275.42,633.30 L275.58,634.03 L275.73,634.72 L275.88,635.34 L276.03,635.92 L276.18,636.44 L276.34,636.93 L276.49,637.38 L276.64,637.79 L276.79,638.18 L276.94,638.54 L277.10,638.89 L277.25,639.22 L277.40,639.53 L277.55,639.80 L277.71,640.04 L278.09,640.55 L278.47,640.97 L278.85,641.34 L279.23,641.69 L279.61,642.02 L279.99,642.33 L280.37,642.61 L280.75,642.89 L281.13,643.17 L281.51,643.44 L281.89,643.70 L282.27,643.95 L282.65,644.19 L283.03,644.42 L283.41,644.64 L283.79,644.86 L284.17,645.07 L284.56,645.28 L284.94,645.48 L285.32,645.68 L285.70,645.87 L286.08,646.04 L286.46,646.21 L286.84,646.37 L287.22,646.52 L287.60,646.67 L287.98,646.81 L288.36,646.95 L288.74,647.08 L289.12,647.20 L289.50,647.33 L289.88,647.45 L290.26,647.56 L290.64,647.67 L291.02,647.77 L291.40,647.88 L291.78,647.97 L292.16,648.07 L292.55,648.16 L292.93,648.25 L293.31,648.34 L293.69,648.42 L294.07,648.51 L294.45,648.59 L294.83,648.67 L295.21,648.74 L295.59,648.82 L295.97,648.89 L296.35,648.96 L296.73,649.03 L297.11,649.10 L297.49,649.16 L297.87,649.23 L298.25,649.29 L298.63,649.36 L299.01,649.42 L299.39,649.48 L299.77,649.54 L300.16,649.60 L300.54,649.65 L300.92,649.71 L301.30,649.76 L301.68,649.82 L302.06,649.87 L302.44,649.92 L302.82,649.97 L303.20,650.03 L303.58,650.08 L303.96,650.13 L304.34,650.18 L304.72,650.23 L305.10,650.28 L305.48,650.33 L305.86,650.37 L306.24,650.42 L306.62,650.47 L307.00,650.52 L307.38,650.56 L307.77,650.61 L308.15,650.65 L308.53,650.70 L308.91,650.74 L309.29,650.78 L309.67,650.83 L310.05,650.87 L310.43,650.91 L310.81,650.95 L311.19,651.00 L311.57,651.04 L311.95,651.08 L312.33,651.12 L312.71,651.17 L313.09,651.21 L313.47,651.25 L313.85,651.29 L314.23,651.33 L314.61,651.37 L315.00,651.41 L315.38,651.45 L315.76,651.49 L316.14,651.53 L316.52,651.57 L316.90,651.61 L317.28,651.65 L317.66,651.69 L318.04,651.73 L318.42,651.77 L318.80,651.81 L319.18,651.85 L319.56,651.89 L319.94,651.93 L320.47,651.98" fill="none" stroke="#000" stroke-width="4.1" stroke-linejoin="round"/>
<line x1="60" y1="428.3" x2="60" y2="686.6" stroke="#000" stroke-width="1.4" />
<line x1="60" y1="686.6" x2="398.3" y2="686.6" stroke="#000" stroke-width="1.4" />
<line x1="55.1" y1="432.04999999999995" x2="60" y2="432.04999999999995" stroke="#000" stroke-width="1.4" />
<line x1="55.1" y1="676.4" x2="60" y2="676.4" stroke="#000" stroke-width="1.4" />
<text x="51.2" y="680.6" font-size="12" text-anchor="end" >0</text>
<line x1="55.1" y1="622.1" x2="60" y2="622.1" stroke="#000" stroke-width="1.4" />
<text x="51.2" y="626.3000000000001" font-size="12" text-anchor="end" >100</text>
<line x1="55.1" y1="567.8" x2="60" y2="567.8" stroke="#000" stroke-width="1.4" />
<text x="51.2" y="572.0" font-size="12" text-anchor="end" >200</text>
<line x1="55.1" y1="513.5" x2="60" y2="513.5" stroke="#000" stroke-width="1.4" />
<text x="51.2" y="517.7" font-size="12" text-anchor="end" >300</text>
<line x1="55.1" y1="459.19999999999993" x2="60" y2="459.19999999999993" stroke="#000" stroke-width="1.4" />
<text x="51.2" y="463.3999999999999" font-size="12" text-anchor="end" >400</text>
<line x1="90.5" y1="686.6" x2="90.5" y2="691" stroke="#000" stroke-width="1.4" />
<text x="90.5" y="706.8" font-size="12" text-anchor="middle" >0</text>
<line x1="166.6" y1="686.6" x2="166.6" y2="691" stroke="#000" stroke-width="1.4" />
<text x="166.6" y="706.8" font-size="12" text-anchor="middle" >50</text>
<line x1="242.7" y1="686.6" x2="242.7" y2="691" stroke="#000" stroke-width="1.4" />
<text x="242.7" y="706.8" font-size="12" text-anchor="middle" >100</text>
<line x1="318.8" y1="686.6" x2="318.8" y2="691" stroke="#000" stroke-width="1.4" />
<text x="318.8" y="706.8" font-size="12" text-anchor="middle" >150</text>
<line x1="394.9" y1="686.6" x2="394.9" y2="691" stroke="#000" stroke-width="1.4" />
<text x="394.9" y="706.8" font-size="12" text-anchor="middle" >200</text>
<text transform="translate(229.5,727) scale(0.86,1)" x="0" y="0" font-size="14.8" text-anchor="middle">Time (secs)</text>
<text transform="translate(22.8,557) rotate(-90) scale(0.914,1)" x="0" y="0" font-size="14.3" text-anchor="middle">Response Units (RU)</text>
<text x="272.0" y="452.8" font-size="11.3" text-anchor="end" >625 nM</text>
<text x="269.7" y="499.0" font-size="11.3" text-anchor="end" >312.50 nM</text>
<text x="270.2" y="533" font-size="11.3" text-anchor="end" >156.25 nM</text>
<text x="269.6" y="561.4" font-size="11.3" text-anchor="end" >78 nM</text>
<text x="269.6" y="584.8" font-size="11.3" text-anchor="end" >39 nM</text>
<line x1="348.2" y1="444.3" x2="348.2" y2="563.5" stroke="#000" stroke-width="1.4" />
<line x1="348.2" y1="563.5" x2="503.5" y2="563.5" stroke="#000" stroke-width="1.4" />
<line x1="343.8" y1="563.5" x2="348.2" y2="563.5" stroke="#000" stroke-width="1.4" />
<text x="339.8" y="567.7" font-size="12" text-anchor="end" >0</text>
<line x1="343.8" y1="534.6" x2="348.2" y2="534.6" stroke="#000" stroke-width="1.4" />
<text x="339.8" y="538.8000000000001" font-size="12" text-anchor="end" >50</text>
<line x1="343.8" y1="505.7" x2="348.2" y2="505.7" stroke="#000" stroke-width="1.4" />
<text x="339.8" y="509.9" font-size="12" text-anchor="end" >100</text>
<line x1="343.8" y1="476.8" x2="348.2" y2="476.8" stroke="#000" stroke-width="1.4" />
<text x="339.8" y="481.0" font-size="12" text-anchor="end" >150</text>
<line x1="343.8" y1="447.9" x2="348.2" y2="447.9" stroke="#000" stroke-width="1.4" />
<text x="339.8" y="452.09999999999997" font-size="12" text-anchor="end" >200</text>
<line x1="348.2" y1="563.5" x2="348.2" y2="567.8" stroke="#000" stroke-width="1.4" />
<text x="348.2" y="582.6" font-size="12" text-anchor="middle" >0</text>
<line x1="386.05" y1="563.5" x2="386.05" y2="567.8" stroke="#000" stroke-width="1.4" />
<text x="386.05" y="582.6" font-size="12" text-anchor="middle" >200</text>
<line x1="423.9" y1="563.5" x2="423.9" y2="567.8" stroke="#000" stroke-width="1.4" />
<text x="423.9" y="582.6" font-size="12" text-anchor="middle" >400</text>
<line x1="461.75" y1="563.5" x2="461.75" y2="567.8" stroke="#000" stroke-width="1.4" />
<text x="461.75" y="582.6" font-size="12" text-anchor="middle" >600</text>
<line x1="499.6" y1="563.5" x2="499.6" y2="567.8" stroke="#000" stroke-width="1.4" />
<text x="499.6" y="582.6" font-size="12" text-anchor="middle" >800</text>
<text transform="translate(426.3,602.7) scale(0.878,1)" x="0" y="0" font-size="14.9" text-anchor="middle">Concentration of C1s (nM)</text>
<text transform="translate(310.3,502.9) rotate(-90) scale(0.92,1)" x="0" y="0" font-size="13.6" text-anchor="middle">Response</text>
<path d="M348.20,563.50 L348.79,561.49 L349.39,559.54 L349.98,557.66 L350.58,555.83 L351.17,554.06 L351.77,552.34 L352.36,550.67 L352.96,549.05 L353.55,547.48 L354.14,545.95 L354.74,544.47 L355.33,543.03 L355.93,541.62 L356.52,540.26 L357.12,538.93 L357.71,537.63 L358.30,536.37 L358.90,535.14 L359.49,533.94 L360.09,532.77 L360.68,531.63 L361.28,530.52 L361.87,529.43 L362.47,528.37 L363.06,527.34 L363.65,526.33 L364.25,525.34 L364.84,524.37 L365.44,523.43 L366.03,522.50 L366.63,521.60 L367.22,520.72 L367.81,519.85 L368.41,519.01 L369.00,518.18 L369.60,517.37 L370.19,516.57 L370.79,515.79 L371.38,515.03 L371.98,514.28 L372.57,513.55 L373.16,512.83 L373.76,512.13 L374.35,511.43 L374.95,510.76 L375.54,510.09 L376.14,509.44 L376.73,508.80 L377.32,508.17 L377.92,507.55 L378.51,506.94 L379.11,506.35 L379.70,505.76 L380.30,505.18 L380.89,504.62 L381.49,504.06 L382.08,503.52 L382.67,502.98 L383.27,502.45 L383.86,501.93 L384.46,501.42 L385.05,500.92 L385.65,500.43 L386.24,499.94 L386.83,499.46 L387.43,498.99 L388.02,498.53 L388.62,498.07 L389.21,497.62 L389.81,497.18 L390.40,496.74 L391.00,496.31 L391.59,495.89 L392.18,495.48 L392.78,495.07 L393.37,494.66 L393.97,494.26 L394.56,493.87 L395.16,493.48 L395.75,493.10 L396.34,492.73 L396.94,492.36 L397.53,491.99 L398.13,491.63 L398.72,491.27 L399.32,490.92 L399.91,490.58 L400.51,490.24 L401.10,489.90 L401.69,489.57 L402.29,489.24 L402.88,488.92 L403.48,488.60 L404.07,488.28 L404.67,487.97 L405.26,487.66 L405.85,487.36 L406.45,487.06 L407.04,486.76 L407.64,486.47 L408.23,486.18 L408.83,485.90 L409.42,485.62 L410.02,485.34 L410.61,485.07 L411.20,484.79 L411.80,484.53 L412.39,484.26 L412.99,484.00 L413.58,483.74 L414.18,483.49 L414.77,483.23 L415.36,482.98 L415.96,482.74 L416.55,482.49 L417.15,482.25 L417.74,482.01 L418.34,481.78 L418.93,481.54 L419.53,481.31 L420.12,481.09 L420.71,480.86 L421.31,480.64 L421.90,480.42 L422.50,480.20 L423.09,479.98 L423.69,479.77 L424.28,479.56 L424.87,479.35 L425.47,479.14 L426.06,478.93 L426.66,478.73 L427.25,478.53 L427.85,478.33 L428.44,478.14 L429.04,477.94 L429.63,477.75 L430.22,477.56 L430.82,477.37 L431.41,477.18 L432.01,477.00 L432.60,476.81 L433.20,476.63 L433.79,476.45 L434.38,476.28 L434.98,476.10 L435.57,475.93 L436.17,475.75 L436.76,475.58 L437.36,475.41 L437.95,475.24 L438.55,475.08 L439.14,474.91 L439.73,474.75 L440.33,474.59 L440.92,474.43 L441.52,474.27 L442.11,474.11 L442.71,473.96 L443.30,473.80 L443.89,473.65 L444.49,473.50 L445.08,473.35 L445.68,473.20 L446.27,473.05 L446.87,472.90 L447.46,472.76 L448.06,472.62 L448.65,472.47 L449.24,472.33 L449.84,472.19 L450.43,472.05 L451.03,471.92 L451.62,471.78 L452.22,471.64 L452.81,471.51 L453.40,471.38 L454.00,471.24 L454.59,471.11 L455.19,470.98 L455.78,470.86 L456.38,470.73 L456.97,470.60 L457.57,470.48 L458.16,470.35 L458.75,470.23 L459.35,470.11 L459.94,469.98 L460.54,469.86 L461.13,469.74 L461.73,469.63 L462.32,469.51 L462.91,469.39 L463.51,469.28 L464.10,469.16 L464.70,469.05 L465.29,468.93 L465.89,468.82 L466.48,468.71" fill="none" stroke="#000" stroke-width="1.8"/>
<circle cx="466.48" cy="469.57" r="2.4" fill="#000"/>
<circle cx="407.34" cy="486.63" r="2.4" fill="#000"/>
<circle cx="377.77" cy="503.39" r="2.4" fill="#000"/>
<circle cx="362.96" cy="528.24" r="2.4" fill="#000"/>
<circle cx="355.58" cy="543.85" r="2.4" fill="#000"/>
<circle cx="351.89" cy="556.22" r="2.4" fill="#000"/>
<circle cx="350.05" cy="561.19" r="2.4" fill="#000"/>
<rect x="0.5" y="0.5" width="519" height="739" fill="none" stroke="#000" stroke-width="1.2"/>
</svg>
</body></html>
